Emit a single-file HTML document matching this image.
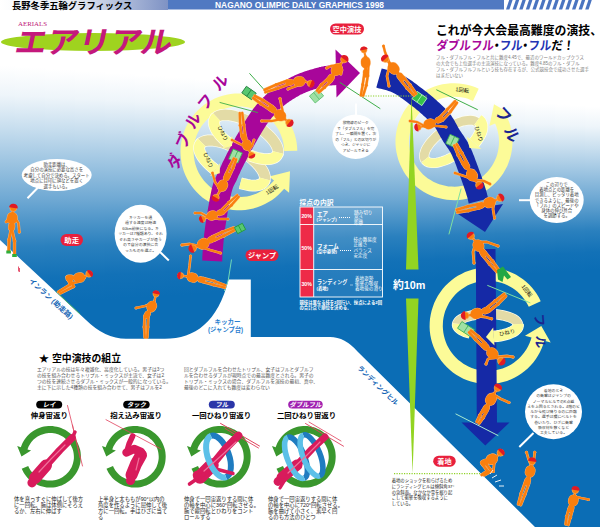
<!DOCTYPE html><html><head><meta charset="utf-8"><title>Aerials</title><style>html,body{margin:0;padding:0;background:#fff}svg{display:block}text{font-family:"Liberation Sans","Noto Sans CJK JP",sans-serif}</style></head><body><svg width="600" height="527" viewBox="0 0 600 527"><defs>
<linearGradient id="bg" x1="0" y1="0" x2="0" y2="1">
<stop offset="0" stop-color="#fff"/><stop offset="0.137" stop-color="#fff"/>
<stop offset="0.569" stop-color="#0f6fb9"/><stop offset="1" stop-color="#0a6eb6"/>
</linearGradient>
<linearGradient id="bs"><stop offset="0.000" stop-color="#ffffff"/><stop offset="0.123" stop-color="#eef5fa"/><stop offset="0.254" stop-color="#c9dfef"/><stop offset="0.561" stop-color="#6ea8d3"/><stop offset="0.759" stop-color="#2a80be"/><stop offset="0.890" stop-color="#1271b7"/><stop offset="1.000" stop-color="#0b6db5"/></linearGradient>
<linearGradient id="hd" x1="0" y1="0" x2="1" y2="0">
<stop offset="0" stop-color="#fff"/><stop offset="0.45" stop-color="#e4e9f2"/><stop offset="1" stop-color="#7e92c4"/>
</linearGradient>
<linearGradient id="b0" href="#bs" gradientUnits="userSpaceOnUse" x1="0" y1="65.5" x2="0" y2="305.6"/><linearGradient id="b1" href="#bs" gradientUnits="userSpaceOnUse" x1="0" y1="66.6" x2="0" y2="304.6"/><linearGradient id="b2" href="#bs" gradientUnits="userSpaceOnUse" x1="0" y1="67.6" x2="0" y2="303.8"/><linearGradient id="b3" href="#bs" gradientUnits="userSpaceOnUse" x1="0" y1="68.7" x2="0" y2="302.9"/><linearGradient id="b4" href="#bs" gradientUnits="userSpaceOnUse" x1="0" y1="69.7" x2="0" y2="301.9"/><linearGradient id="b5" href="#bs" gradientUnits="userSpaceOnUse" x1="0" y1="70.8" x2="0" y2="301.1"/><linearGradient id="b6" href="#bs" gradientUnits="userSpaceOnUse" x1="0" y1="71.8" x2="0" y2="300.1"/><linearGradient id="b7" href="#bs" gradientUnits="userSpaceOnUse" x1="0" y1="72.9" x2="0" y2="299.2"/><linearGradient id="b8" href="#bs" gradientUnits="userSpaceOnUse" x1="0" y1="73.9" x2="0" y2="298.4"/><linearGradient id="b9" href="#bs" gradientUnits="userSpaceOnUse" x1="0" y1="75.0" x2="0" y2="297.4"/><linearGradient id="b10" href="#bs" gradientUnits="userSpaceOnUse" x1="0" y1="76.0" x2="0" y2="296.6"/><linearGradient id="b11" href="#bs" gradientUnits="userSpaceOnUse" x1="0" y1="77.1" x2="0" y2="295.6"/><linearGradient id="b12" href="#bs" gradientUnits="userSpaceOnUse" x1="0" y1="78.1" x2="0" y2="294.8"/><linearGradient id="b13" href="#bs" gradientUnits="userSpaceOnUse" x1="0" y1="79.2" x2="0" y2="293.9"/><linearGradient id="b14" href="#bs" gradientUnits="userSpaceOnUse" x1="0" y1="80.2" x2="0" y2="292.9"/><linearGradient id="b15" href="#bs" gradientUnits="userSpaceOnUse" x1="0" y1="81.3" x2="0" y2="292.1"/><linearGradient id="b16" href="#bs" gradientUnits="userSpaceOnUse" x1="0" y1="82.3" x2="0" y2="291.1"/><linearGradient id="b17" href="#bs" gradientUnits="userSpaceOnUse" x1="0" y1="83.4" x2="0" y2="290.2"/><linearGradient id="b18" href="#bs" gradientUnits="userSpaceOnUse" x1="0" y1="84.4" x2="0" y2="289.4"/><linearGradient id="b19" href="#bs" gradientUnits="userSpaceOnUse" x1="0" y1="85.5" x2="0" y2="288.4"/><linearGradient id="b20" href="#bs" gradientUnits="userSpaceOnUse" x1="0" y1="86.5" x2="0" y2="287.6"/><linearGradient id="b21" href="#bs" gradientUnits="userSpaceOnUse" x1="0" y1="87.6" x2="0" y2="286.6"/><linearGradient id="b22" href="#bs" gradientUnits="userSpaceOnUse" x1="0" y1="88.6" x2="0" y2="285.8"/><linearGradient id="b23" href="#bs" gradientUnits="userSpaceOnUse" x1="0" y1="89.7" x2="0" y2="284.9"/><linearGradient id="b24" href="#bs" gradientUnits="userSpaceOnUse" x1="0" y1="90.7" x2="0" y2="283.9"/><linearGradient id="b25" href="#bs" gradientUnits="userSpaceOnUse" x1="0" y1="91.8" x2="0" y2="283.1"/><linearGradient id="b26" href="#bs" gradientUnits="userSpaceOnUse" x1="0" y1="92.8" x2="0" y2="282.1"/><linearGradient id="b27" href="#bs" gradientUnits="userSpaceOnUse" x1="0" y1="93.9" x2="0" y2="281.2"/><linearGradient id="b28" href="#bs" gradientUnits="userSpaceOnUse" x1="0" y1="94.9" x2="0" y2="280.4"/><linearGradient id="b29" href="#bs" gradientUnits="userSpaceOnUse" x1="0" y1="96.0" x2="0" y2="279.4"/><linearGradient id="b30" href="#bs" gradientUnits="userSpaceOnUse" x1="0" y1="97.0" x2="0" y2="278.6"/><linearGradient id="b31" href="#bs" gradientUnits="userSpaceOnUse" x1="0" y1="98.1" x2="0" y2="277.6"/><linearGradient id="b32" href="#bs" gradientUnits="userSpaceOnUse" x1="0" y1="99.1" x2="0" y2="276.8"/><linearGradient id="b33" href="#bs" gradientUnits="userSpaceOnUse" x1="0" y1="100.2" x2="0" y2="275.9"/><linearGradient id="b34" href="#bs" gradientUnits="userSpaceOnUse" x1="0" y1="101.2" x2="0" y2="274.9"/><linearGradient id="b35" href="#bs" gradientUnits="userSpaceOnUse" x1="0" y1="102.3" x2="0" y2="274.1"/><linearGradient id="b36" href="#bs" gradientUnits="userSpaceOnUse" x1="0" y1="103.3" x2="0" y2="273.1"/><linearGradient id="b37" href="#bs" gradientUnits="userSpaceOnUse" x1="0" y1="104.4" x2="0" y2="272.2"/><linearGradient id="b38" href="#bs" gradientUnits="userSpaceOnUse" x1="0" y1="105.4" x2="0" y2="271.4"/><linearGradient id="b39" href="#bs" gradientUnits="userSpaceOnUse" x1="0" y1="106.5" x2="0" y2="270.4"/></defs><rect x="0.0" y="0" width="15.6" height="527" fill="url(#b0)"/><rect x="15.0" y="0" width="15.6" height="527" fill="url(#b1)"/><rect x="30.0" y="0" width="15.6" height="527" fill="url(#b2)"/><rect x="45.0" y="0" width="15.6" height="527" fill="url(#b3)"/><rect x="60.0" y="0" width="15.6" height="527" fill="url(#b4)"/><rect x="75.0" y="0" width="15.6" height="527" fill="url(#b5)"/><rect x="90.0" y="0" width="15.6" height="527" fill="url(#b6)"/><rect x="105.0" y="0" width="15.6" height="527" fill="url(#b7)"/><rect x="120.0" y="0" width="15.6" height="527" fill="url(#b8)"/><rect x="135.0" y="0" width="15.6" height="527" fill="url(#b9)"/><rect x="150.0" y="0" width="15.6" height="527" fill="url(#b10)"/><rect x="165.0" y="0" width="15.6" height="527" fill="url(#b11)"/><rect x="180.0" y="0" width="15.6" height="527" fill="url(#b12)"/><rect x="195.0" y="0" width="15.6" height="527" fill="url(#b13)"/><rect x="210.0" y="0" width="15.6" height="527" fill="url(#b14)"/><rect x="225.0" y="0" width="15.6" height="527" fill="url(#b15)"/><rect x="240.0" y="0" width="15.6" height="527" fill="url(#b16)"/><rect x="255.0" y="0" width="15.6" height="527" fill="url(#b17)"/><rect x="270.0" y="0" width="15.6" height="527" fill="url(#b18)"/><rect x="285.0" y="0" width="15.6" height="527" fill="url(#b19)"/><rect x="300.0" y="0" width="15.6" height="527" fill="url(#b20)"/><rect x="315.0" y="0" width="15.6" height="527" fill="url(#b21)"/><rect x="330.0" y="0" width="15.6" height="527" fill="url(#b22)"/><rect x="345.0" y="0" width="15.6" height="527" fill="url(#b23)"/><rect x="360.0" y="0" width="15.6" height="527" fill="url(#b24)"/><rect x="375.0" y="0" width="15.6" height="527" fill="url(#b25)"/><rect x="390.0" y="0" width="15.6" height="527" fill="url(#b26)"/><rect x="405.0" y="0" width="15.6" height="527" fill="url(#b27)"/><rect x="420.0" y="0" width="15.6" height="527" fill="url(#b28)"/><rect x="435.0" y="0" width="15.6" height="527" fill="url(#b29)"/><rect x="450.0" y="0" width="15.6" height="527" fill="url(#b30)"/><rect x="465.0" y="0" width="15.6" height="527" fill="url(#b31)"/><rect x="480.0" y="0" width="15.6" height="527" fill="url(#b32)"/><rect x="495.0" y="0" width="15.6" height="527" fill="url(#b33)"/><rect x="510.0" y="0" width="15.6" height="527" fill="url(#b34)"/><rect x="525.0" y="0" width="15.6" height="527" fill="url(#b35)"/><rect x="540.0" y="0" width="15.6" height="527" fill="url(#b36)"/><rect x="555.0" y="0" width="15.6" height="527" fill="url(#b37)"/><rect x="570.0" y="0" width="15.6" height="527" fill="url(#b38)"/><rect x="585.0" y="0" width="15.6" height="527" fill="url(#b39)"/><path d="M0 240 L86 320 Q105 338.75 126 338.75 L165 338.75 C195 338.75 218 322 228.5 279.5 L250.8 279.5 L250.8 337 L330 337 Q345 337 358 352 L535 527 L0 527 Z" fill="#fff"/><rect x="0" y="0" width="168" height="10" fill="url(#hd)"/><rect x="168" y="0" width="336" height="9.5" fill="#5079c2"/><g fill="#4a74c0"><path d="M506.0 9.5 L509.2 0 L512.6 0 L509.4 9.5Z"/><path d="M512.6 9.5 L515.8 0 L519.2 0 L516.0 9.5Z"/><path d="M519.2 9.5 L522.4 0 L525.8 0 L522.6 9.5Z"/><path d="M525.8 9.5 L529.0 0 L532.4 0 L529.2 9.5Z"/><path d="M532.4 9.5 L535.6 0 L539.0 0 L535.8 9.5Z"/><path d="M539.0 9.5 L542.2 0 L545.6 0 L542.4 9.5Z"/><path d="M545.6 9.5 L548.8 0 L552.2 0 L549.0 9.5Z"/><path d="M552.2 9.5 L555.4 0 L558.8 0 L555.6 9.5Z"/><path d="M558.8 9.5 L562.0 0 L565.4 0 L562.2 9.5Z"/><path d="M565.4 9.5 L568.6 0 L572.0 0 L568.8 9.5Z"/><path d="M572.0 9.5 L575.2 0 L578.6 0 L575.4 9.5Z"/><path d="M578.6 9.5 L581.8 0 L585.2 0 L582.0 9.5Z"/><path d="M585.2 9.5 L588.4 0 L591.8 0 L588.6 9.5Z"/></g><text x="12" y="8.6" font-size="9.3" font-weight="bold" fill="#000">長野冬季五輪グラフィックス</text><text x="215" y="8.3" font-family="Liberation Sans, sans-serif" font-weight="bold" font-size="9.2" fill="#fff" textLength="169" lengthAdjust="spacingAndGlyphs">NAGANO OLIMPIC DAILY GRAPHICS 1998</text><ellipse cx="93" cy="42" rx="92" ry="9" fill="#9fd31f"/><text x="18" y="26.3" style="font-family:'Liberation Serif',serif" font-size="7" fill="#c01878" textLength="29" lengthAdjust="spacingAndGlyphs">AERIALS</text><text transform="translate(13.5 53) skewX(-12)" font-size="30.5" font-weight="bold" fill="#c4187c" textLength="157" lengthAdjust="spacingAndGlyphs">エアリアル</text><path d="M297.3 150.8 L297.1 146.7 L296.6 142.6 L295.8 138.5 L294.7 134.5 L293.3 130.6 L291.7 126.9 L289.8 123.2 L287.7 119.7 L285.3 116.3 L282.7 113.1 L279.8 110.1 L276.8 107.3 L273.5 104.8 L270.1 102.5 L266.6 100.4 L262.9 98.5 L259.0 97.0 L255.1 95.7 L251.1 94.7 L247.1 94.0 L243.0 93.5 L238.8 93.4 L234.7 93.5 L230.6 94.0 L226.6 94.7 L222.6 95.7 L218.6 97.0 L214.8 98.6 L211.1 100.4 L207.6 102.5 L204.2 104.8 L200.9 107.4 L197.9 110.2 L195.1 113.2 L192.5 116.4 L190.1 119.8 L187.9 123.3 L186.0 127.0 L184.4 130.8 L183.1 134.7 L182.0 138.6 L181.2 142.7 L180.7 146.8 L180.5 150.9 L180.6 155.0 L181.0 159.1 L181.6 163.2 L182.6 167.2 L183.8 171.2 L185.3 175.0 L187.1 178.7 L189.1 182.3 L191.4 185.8 L193.9 189.0 L196.6 192.1 L199.6 195.0 L202.7 197.7 L206.1 200.1 L209.6 202.3 L213.2 204.2 L217.0 205.9 L220.8 207.3 L224.8 208.5 L228.8 209.3 L232.9 209.9 L237.0 210.2 L241.2 210.2 L245.3 209.9 L249.4 209.3 L253.4 208.4 L257.3 207.2 L261.2 205.8 L265.0 204.1 L268.6 202.1 L272.1 199.9 L275.4 197.4 L278.5 194.7 L281.4 191.8 L284.2 188.7 L289.1 192.7 L290.0 171.2 L269.1 176.4 L274.0 180.4 L271.9 182.8 L269.6 185.1 L267.2 187.2 L264.6 189.1 L261.9 190.8 L259.1 192.3 L256.2 193.7 L253.2 194.8 L250.1 195.7 L247.0 196.4 L243.8 196.8 L240.7 197.1 L237.5 197.1 L234.3 196.9 L231.1 196.4 L228.0 195.8 L224.9 194.9 L221.9 193.8 L219.0 192.5 L216.1 191.0 L213.4 189.3 L210.8 187.4 L208.4 185.3 L206.1 183.1 L204.0 180.7 L202.0 178.1 L200.3 175.5 L198.7 172.7 L197.3 169.8 L196.2 166.8 L195.2 163.8 L194.5 160.6 L194.0 157.5 L193.7 154.3 L193.6 151.1 L193.8 147.9 L194.2 144.7 L194.8 141.6 L195.6 138.5 L196.6 135.5 L197.9 132.5 L199.4 129.7 L201.0 127.0 L202.9 124.3 L204.9 121.9 L207.1 119.5 L209.5 117.4 L212.0 115.4 L214.6 113.6 L217.4 112.0 L220.2 110.5 L223.2 109.3 L226.2 108.3 L229.3 107.5 L232.5 107.0 L235.7 106.6 L238.9 106.5 L242.1 106.6 L245.2 106.9 L248.4 107.5 L251.5 108.3 L254.5 109.3 L257.5 110.5 L260.4 111.9 L263.1 113.5 L265.8 115.3 L268.3 117.3 L270.6 119.5 L272.8 121.8 L274.9 124.3 L276.7 126.9 L278.4 129.6 L279.9 132.4 L281.1 135.4 L282.2 138.4 L283.0 141.5 L283.6 144.6 L284.0 147.8 L284.2 151.0 Z" fill="#fcfb98"/><polyline points="214.8 119.0 215.8 117.7 217.1 116.7 218.7 115.9 220.6 115.3 222.8 114.9 225.2 114.8 227.8 114.9 230.7 115.3 233.7 115.9 236.9 116.8 240.2 117.8 243.5 119.1 246.9 120.6 250.2 122.2 253.5 124.0 256.7 126.0 259.8 128.0 262.8 130.2 265.5 132.5 268.1 134.8 270.4 137.1 272.4 139.4 274.2 141.7 275.6 143.9 276.8 146.1 277.5 148.2 278.0 150.1 278.1 151.9 277.8 153.5 277.2 155.0" fill="none" stroke="#fffef0" stroke-width="11.8"/><polyline points="214.8 119.0 215.8 117.7 217.1 116.7 218.7 115.9 220.6 115.3 222.8 114.9 225.2 114.8 227.8 114.9 230.7 115.3 233.7 115.9 236.9 116.8 240.2 117.8 243.5 119.1 246.9 120.6 250.2 122.2 253.5 124.0 256.7 126.0 259.8 128.0 262.8 130.2 265.5 132.5 268.1 134.8 270.4 137.1 272.4 139.4 274.2 141.7 275.6 143.9 276.8 146.1 277.5 148.2 278.0 150.1 278.1 151.9 277.8 153.5 277.2 155.0" fill="none" stroke="#e3dba6" stroke-width="10.5"/><polyline points="200.0 144.5 200.9 143.2 202.2 142.2 203.8 141.4 205.8 140.8 208.0 140.5 210.5 140.4 213.2 140.6 216.1 141.0 219.2 141.6 222.5 142.5 225.8 143.6 229.2 144.9 232.7 146.4 236.1 148.1 239.5 150.0 242.8 152.0 246.0 154.1 249.0 156.4 251.9 158.7 254.5 161.0 256.9 163.4 259.0 165.7 260.8 168.1 262.3 170.3 263.5 172.5 264.3 174.6 264.8 176.6 264.9 178.4 264.7 180.0 264.0 181.5" fill="none" stroke="#fffef0" stroke-width="11.8"/><polyline points="200.0 144.5 200.9 143.2 202.2 142.2 203.8 141.4 205.8 140.8 208.0 140.5 210.5 140.4 213.2 140.6 216.1 141.0 219.2 141.6 222.5 142.5 225.8 143.6 229.2 144.9 232.7 146.4 236.1 148.1 239.5 150.0 242.8 152.0 246.0 154.1 249.0 156.4 251.9 158.7 254.5 161.0 256.9 163.4 259.0 165.7 260.8 168.1 262.3 170.3 263.5 172.5 264.3 174.6 264.8 176.6 264.9 178.4 264.7 180.0 264.0 181.5" fill="none" stroke="#e3dba6" stroke-width="10.5"/><path d="M222.2 261.4 L222.2 260.8 L222.2 260.0 L222.3 259.2 L222.3 258.4 L222.3 257.5 L222.4 256.4 L222.4 255.3 L222.5 254.0 L222.6 252.5 L222.8 250.9 L222.9 249.0 L223.1 246.9 L223.3 244.7 L223.5 242.4 L223.7 240.0 L224.0 237.4 L224.3 234.8 L224.6 232.1 L225.0 229.3 L225.4 226.5 L225.9 223.3 L226.4 219.9 L227.0 216.2 L227.6 212.4 L228.3 208.6 L229.0 204.8 L229.6 201.2 L230.3 197.9 L230.9 194.9 L231.5 192.4 L232.0 190.5 L232.5 188.9 L233.0 187.6 L233.4 186.6 L233.9 185.6 L234.4 184.6 L234.9 183.5 L235.6 182.2 L236.4 180.7 L237.1 179.1 L237.8 177.6 L238.4 176.1 L239.0 174.8 L239.7 173.4 L240.3 172.0 L240.9 170.6 L241.6 169.2 L242.3 167.7 L243.1 166.2 L243.9 164.5 L244.8 162.8 L245.8 160.9 L246.8 159.0 L247.8 157.0 L248.9 155.0 L250.0 153.0 L251.1 150.9 L252.2 148.9 L253.3 146.9 L254.4 144.9 L255.5 142.9 L256.7 140.9 L257.9 138.8 L259.1 136.7 L260.3 134.7 L261.5 132.7 L262.7 130.7 L263.8 128.9 L264.9 127.2 L266.0 125.6 L267.0 124.1 L268.0 122.8 L268.9 121.5 L269.8 120.3 L270.7 119.2 L271.5 118.1 L272.4 117.0 L273.4 116.0 L274.3 114.9 L275.3 113.8 L276.3 112.7 L277.4 111.7 L278.4 110.6 L279.5 109.6 L280.5 108.6 L281.6 107.6 L282.7 106.7 L283.8 105.7 L285.0 104.8 L286.1 103.9 L287.2 103.1 L288.5 102.2 L289.7 101.3 L291.1 100.4 L292.4 99.6 L293.8 98.7 L295.1 97.9 L296.4 97.1 L297.7 96.4 L298.9 95.7 L299.9 95.1 L300.9 94.6 L301.9 94.2 L302.8 93.7 L303.7 93.3 L304.6 92.9 L305.6 92.5 L306.5 92.1 L307.5 91.7 L308.6 91.3 L309.5 91.0 L310.5 90.6 L311.5 90.3 L312.5 90.0 L313.5 89.6 L314.6 89.3 L315.6 89.0 L316.6 88.7 L317.7 88.4 L318.8 88.1 L319.8 87.8 L320.8 87.5 L321.8 87.3 L322.7 87.0 L323.5 86.8 L324.4 86.6 L325.2 86.4 L326.0 86.2 L326.8 86.0 L327.6 85.9 L328.4 85.7 L329.4 85.6 L330.5 85.5 L331.7 85.4 L332.9 85.3 L334.0 85.2 L335.1 85.2 L336.2 85.1 L337.1 85.0 L337.8 85.0 L336.2 65.0 L335.6 65.1 L334.8 65.1 L333.8 65.2 L332.6 65.3 L331.4 65.4 L330.0 65.5 L328.6 65.6 L327.2 65.8 L325.8 65.9 L324.4 66.1 L323.1 66.4 L321.9 66.6 L320.7 66.9 L319.6 67.1 L318.5 67.4 L317.4 67.7 L316.3 68.0 L315.3 68.3 L314.3 68.6 L313.2 68.9 L312.2 69.2 L311.1 69.5 L310.0 69.8 L308.8 70.2 L307.6 70.5 L306.4 70.9 L305.2 71.3 L303.9 71.7 L302.7 72.2 L301.4 72.7 L300.3 73.1 L299.2 73.5 L298.0 74.0 L296.8 74.5 L295.6 75.0 L294.4 75.6 L293.2 76.2 L291.8 76.8 L290.5 77.5 L289.1 78.3 L287.7 79.1 L286.3 79.9 L284.8 80.8 L283.3 81.7 L281.7 82.7 L280.1 83.7 L278.6 84.7 L277.0 85.8 L275.4 86.9 L273.9 88.1 L272.5 89.2 L271.1 90.3 L269.7 91.5 L268.3 92.7 L267.0 93.9 L265.7 95.1 L264.4 96.4 L263.1 97.6 L261.9 98.9 L260.7 100.2 L259.5 101.5 L258.4 102.7 L257.2 104.0 L256.1 105.3 L255.0 106.7 L253.9 108.1 L252.8 109.6 L251.7 111.1 L250.6 112.7 L249.4 114.4 L248.2 116.3 L246.9 118.2 L245.7 120.2 L244.4 122.3 L243.1 124.5 L241.9 126.6 L240.6 128.8 L239.4 130.9 L238.2 133.0 L237.0 135.1 L235.8 137.1 L234.7 139.2 L233.5 141.4 L232.3 143.5 L231.2 145.6 L230.1 147.7 L229.0 149.7 L228.0 151.7 L227.0 153.6 L226.1 155.5 L225.2 157.3 L224.4 158.9 L223.6 160.5 L222.8 162.1 L222.1 163.6 L221.5 165.1 L220.8 166.6 L220.2 168.0 L219.5 169.5 L218.9 170.9 L218.3 172.1 L217.8 173.1 L217.2 174.2 L216.6 175.5 L215.9 176.9 L215.1 178.6 L214.3 180.4 L213.5 182.6 L212.8 184.9 L212.1 187.6 L211.4 190.6 L210.7 193.9 L210.0 197.5 L209.3 201.2 L208.6 205.2 L207.9 209.1 L207.3 213.0 L206.7 216.8 L206.1 220.3 L205.6 223.5 L205.2 226.6 L204.8 229.6 L204.4 232.5 L204.1 235.3 L203.8 238.0 L203.6 240.6 L203.4 243.0 L203.2 245.2 L203.0 247.2 L202.8 249.1 L202.7 250.9 L202.6 252.6 L202.5 254.1 L202.4 255.5 L202.3 256.7 L202.3 257.7 L202.3 258.7 L202.3 259.4 L202.2 260.0 L202.2 260.6 Z" fill="#a8069a" /><path d="M335.5 49.5 L360 73 L336.5 97.5 Z" fill="#a8069a"/><path d="M478.7 88.7 L474.9 87.1 L471.0 85.7 L467.0 84.7 L463.0 83.9 L458.9 83.4 L454.8 83.2 L450.7 83.3 L446.6 83.7 L442.5 84.3 L438.5 85.3 L434.6 86.5 L430.7 88.0 L427.0 89.8 L423.4 91.8 L420.0 94.1 L416.7 96.6 L413.6 99.4 L410.7 102.3 L408.1 105.5 L405.6 108.8 L403.4 112.3 L401.5 115.9 L399.8 119.7 L398.4 123.5 L397.3 127.5 L396.4 131.5 L395.8 135.6 L395.5 139.7 L395.5 143.8 L395.8 148.0 L396.4 152.0 L397.3 156.1 L398.4 160.0 L399.9 163.9 L401.6 167.6 L403.5 171.3 L405.7 174.8 L408.2 178.1 L410.9 181.2 L413.7 184.1 L416.8 186.9 L420.1 189.4 L423.5 191.7 L427.1 193.7 L430.9 195.4 L434.7 196.9 L438.6 198.1 L442.7 199.1 L446.7 199.7 L450.8 200.1 L455.0 200.2 L459.1 200.0 L463.2 199.5 L467.2 198.7 L471.2 197.6 L475.1 196.3 L478.9 194.6 L482.5 192.8 L486.1 190.6 L489.4 188.2 L492.6 185.6 L495.6 182.8 L498.4 179.8 L501.0 176.6 L503.3 173.2 L505.4 169.6 L507.3 165.9 L508.8 162.1 L510.1 158.2 L511.1 154.2 L511.9 150.1 L512.3 146.1 L512.5 141.9 L512.4 137.8 L512.0 133.7 L511.2 129.7 L510.3 125.6 L509.0 121.7 L507.4 117.9 L513.2 115.4 L494.0 104.2 L489.4 125.9 L495.1 123.4 L496.3 126.3 L497.3 129.4 L498.0 132.4 L498.6 135.6 L498.9 138.7 L499.0 141.9 L498.9 145.0 L498.5 148.2 L498.0 151.3 L497.2 154.4 L496.2 157.4 L495.0 160.3 L493.5 163.2 L491.9 165.9 L490.1 168.5 L488.2 171.0 L486.0 173.3 L483.7 175.5 L481.3 177.5 L478.7 179.3 L476.0 181.0 L473.1 182.4 L470.2 183.7 L467.2 184.7 L464.2 185.5 L461.0 186.1 L457.9 186.5 L454.7 186.7 L451.6 186.6 L448.4 186.4 L445.3 185.8 L442.2 185.1 L439.2 184.2 L436.2 183.0 L433.3 181.7 L430.6 180.1 L427.9 178.4 L425.4 176.5 L423.0 174.4 L420.8 172.1 L418.8 169.7 L416.9 167.1 L415.2 164.4 L413.7 161.7 L412.4 158.8 L411.3 155.8 L410.4 152.8 L409.7 149.7 L409.3 146.5 L409.0 143.3 L409.0 140.2 L409.2 137.0 L409.7 133.9 L410.3 130.8 L411.2 127.7 L412.3 124.8 L413.6 121.9 L415.1 119.1 L416.8 116.4 L418.7 113.8 L420.7 111.4 L422.9 109.1 L425.3 107.0 L427.8 105.1 L430.5 103.3 L433.2 101.8 L436.1 100.4 L439.0 99.3 L442.1 98.3 L445.2 97.6 L448.3 97.1 L451.4 96.8 L454.6 96.7 L457.8 96.9 L460.9 97.2 L464.0 97.8 L467.1 98.6 L470.1 99.7 L473.0 100.9 Z" fill="#fcfb98"/><polyline points="425.3 160.0 424.6 158.7 424.3 157.3 424.2 155.6 424.4 153.9 424.9 152.0 425.7 149.9 426.8 147.8 428.2 145.7 429.8 143.4 431.7 141.2 433.8 139.0 436.0 136.8 438.5 134.6 441.1 132.5 443.8 130.5 446.5 128.7 449.4 127.0 452.2 125.4 455.1 124.0 457.9 122.8 460.6 121.9 463.3 121.1 465.8 120.6 468.2 120.3 470.3 120.2 472.3 120.3 474.0 120.7 475.5 121.3 476.8 122.2 477.7 123.2" fill="none" stroke="#fffef0" stroke-width="10.1"/><polyline points="425.3 160.0 424.6 158.7 424.3 157.3 424.2 155.6 424.4 153.9 424.9 152.0 425.7 149.9 426.8 147.8 428.2 145.7 429.8 143.4 431.7 141.2 433.8 139.0 436.0 136.8 438.5 134.6 441.1 132.5 443.8 130.5 446.5 128.7 449.4 127.0 452.2 125.4 455.1 124.0 457.9 122.8 460.6 121.9 463.3 121.1 465.8 120.6 468.2 120.3 470.3 120.2 472.3 120.3 474.0 120.7 475.5 121.3 476.8 122.2 477.7 123.2" fill="none" stroke="#e3dba6" stroke-width="8.8"/><polyline points="456.9 154.2 454.0 156.0 451.0 157.6 448.1 159.1 445.2 160.3 442.3 161.3 439.6 162.1 437.0 162.7 434.6 163.0 432.4 163.0 430.4 162.8 428.6 162.4 427.1 161.7 425.9 160.7 425.0 159.6" fill="none" stroke="#fffef0" stroke-width="10.1"/><polyline points="456.9 154.2 454.0 156.0 451.0 157.6 448.1 159.1 445.2 160.3 442.3 161.3 439.6 162.1 437.0 162.7 434.6 163.0 432.4 163.0 430.4 162.8 428.6 162.4 427.1 161.7 425.9 160.7 425.0 159.6" fill="none" stroke="#fcfb98" stroke-width="8.8"/><path d="M376.3 87.6 L377.5 88.0 L379.1 88.4 L380.9 88.8 L382.7 89.3 L384.6 89.8 L386.6 90.3 L388.5 90.9 L390.3 91.6 L392.0 92.2 L393.5 92.9 L395.0 93.7 L396.7 94.8 L398.6 96.0 L400.5 97.4 L402.5 98.8 L404.5 100.3 L406.5 101.8 L408.4 103.3 L410.3 104.7 L412.0 106.0 L413.5 107.1 L414.8 108.1 L415.9 109.0 L417.0 109.9 L418.1 110.8 L419.1 111.6 L420.0 112.5 L421.1 113.4 L422.1 114.3 L423.3 115.4 L424.5 116.5 L425.7 117.6 L426.9 118.7 L428.1 119.8 L429.3 120.9 L430.4 122.0 L431.4 123.0 L432.4 124.1 L433.3 125.1 L434.1 126.1 L434.9 127.1 L435.6 128.3 L436.4 129.5 L437.1 130.8 L437.9 132.2 L438.7 133.7 L439.6 135.2 L440.5 136.9 L441.5 138.5 L442.5 140.2 L443.5 141.9 L444.6 143.5 L445.6 145.0 L446.6 146.4 L447.5 147.8 L448.4 149.1 L449.3 150.4 L450.1 151.8 L450.8 153.1 L451.6 154.5 L452.3 156.0 L453.0 157.7 L453.8 159.5 L454.6 161.3 L455.3 163.3 L456.1 165.3 L456.8 167.3 L457.6 169.4 L458.4 171.5 L459.1 173.5 L459.9 175.5 L460.6 177.6 L461.4 179.7 L462.1 181.8 L462.9 183.9 L463.6 185.9 L464.3 187.9 L464.9 189.8 L465.5 191.5 L466.0 193.1 L466.4 194.4 L466.8 195.7 L467.2 197.0 L467.5 198.1 L467.8 199.2 L468.0 200.2 L468.2 201.2 L468.4 202.0 L468.6 202.9 L468.8 203.5 L488.2 198.5 L488.0 197.9 L487.9 197.3 L487.7 196.4 L487.4 195.4 L487.1 194.3 L486.8 193.0 L486.4 191.6 L486.0 190.2 L485.5 188.6 L485.0 186.9 L484.5 185.2 L483.9 183.4 L483.2 181.4 L482.5 179.4 L481.8 177.3 L481.0 175.1 L480.2 172.9 L479.4 170.7 L478.6 168.6 L477.9 166.5 L477.1 164.5 L476.4 162.5 L475.6 160.4 L474.8 158.2 L474.0 156.1 L473.1 153.9 L472.3 151.8 L471.4 149.7 L470.4 147.6 L469.4 145.5 L468.4 143.5 L467.3 141.6 L466.2 139.8 L465.1 138.2 L464.1 136.6 L463.1 135.1 L462.1 133.7 L461.2 132.3 L460.3 131.0 L459.5 129.8 L458.7 128.4 L457.9 127.0 L457.1 125.6 L456.3 124.0 L455.4 122.4 L454.5 120.8 L453.5 119.1 L452.4 117.4 L451.2 115.6 L449.9 113.9 L448.6 112.2 L447.2 110.7 L445.9 109.2 L444.5 107.8 L443.1 106.5 L441.8 105.2 L440.5 104.0 L439.2 102.8 L437.9 101.7 L436.7 100.6 L435.6 99.5 L434.4 98.5 L433.3 97.5 L432.1 96.5 L430.9 95.5 L429.7 94.5 L428.4 93.4 L427.1 92.3 L425.6 91.2 L424.0 90.0 L422.4 88.8 L420.6 87.4 L418.6 85.9 L416.5 84.3 L414.3 82.7 L412.1 81.1 L409.8 79.4 L407.4 77.9 L405.0 76.4 L402.5 75.1 L400.0 73.9 L397.3 72.8 L394.8 71.9 L392.3 71.1 L389.9 70.5 L387.7 69.9 L385.7 69.4 L384.0 69.0 L382.7 68.7 L381.7 68.4 Z" fill="#1529a6" /><path d="M455 212 L503 204 L485 232 Z" fill="#1529a6"/><path d="M540.7 301.2 L538.9 297.5 L536.8 294.0 L534.5 290.7 L531.9 287.5 L529.1 284.6 L526.1 281.8 L523.0 279.2 L519.6 276.9 L516.2 274.8 L512.5 273.0 L508.8 271.4 L504.9 270.0 L501.0 269.0 L497.0 268.2 L493.0 267.7 L488.9 267.5 L484.8 267.6 L480.8 267.9 L476.8 268.6 L472.8 269.5 L468.9 270.7 L465.1 272.1 L461.4 273.9 L457.8 275.8 L454.4 278.1 L451.2 280.5 L448.1 283.2 L445.2 286.1 L442.6 289.1 L440.1 292.4 L437.9 295.8 L435.9 299.4 L434.2 303.1 L432.8 306.9 L431.6 310.8 L430.7 314.7 L430.0 318.7 L429.7 322.8 L429.6 326.9 L429.8 330.9 L430.3 335.0 L431.1 339.0 L432.2 342.9 L433.5 346.7 L435.1 350.5 L436.9 354.1 L439.0 357.6 L441.4 360.9 L443.9 364.1 L446.7 367.1 L449.7 369.8 L452.9 372.4 L456.2 374.7 L459.7 376.8 L463.3 378.7 L467.1 380.3 L470.9 381.6 L474.9 382.6 L478.9 383.4 L482.9 383.9 L487.0 384.1 L491.0 384.0 L495.1 383.7 L499.1 383.0 L503.1 382.1 L507.0 380.9 L510.8 379.4 L514.4 377.7 L518.0 375.7 L521.4 373.5 L524.7 371.1 L527.7 368.4 L530.6 365.5 L533.3 362.4 L535.7 359.2 L537.9 355.7 L539.9 352.2 L541.6 348.5 L543.1 344.7 L544.2 340.8 L550.7 342.5 L541.3 326.0 L525.0 335.7 L531.5 337.4 L530.6 340.4 L529.4 343.4 L528.1 346.2 L526.6 349.0 L524.9 351.6 L523.0 354.1 L520.9 356.5 L518.7 358.7 L516.3 360.8 L513.8 362.7 L511.2 364.4 L508.4 366.0 L505.6 367.3 L502.6 368.4 L499.6 369.3 L496.6 370.1 L493.5 370.6 L490.3 370.8 L487.2 370.9 L484.0 370.7 L480.9 370.4 L477.8 369.8 L474.8 368.9 L471.8 367.9 L468.9 366.7 L466.1 365.3 L463.4 363.7 L460.8 361.8 L458.3 359.9 L456.0 357.7 L453.9 355.4 L451.9 353.0 L450.1 350.4 L448.5 347.7 L447.0 344.9 L445.8 342.0 L444.8 339.0 L444.0 336.0 L443.4 332.9 L443.0 329.8 L442.8 326.6 L442.9 323.5 L443.1 320.3 L443.6 317.2 L444.3 314.2 L445.2 311.1 L446.4 308.2 L447.7 305.4 L449.2 302.6 L450.9 300.0 L452.8 297.4 L454.9 295.1 L457.1 292.8 L459.5 290.8 L462.0 288.9 L464.7 287.2 L467.4 285.6 L470.3 284.3 L473.2 283.2 L476.2 282.2 L479.3 281.5 L482.4 281.0 L485.5 280.8 L488.7 280.7 L491.8 280.9 L494.9 281.3 L498.0 281.9 L501.1 282.7 L504.1 283.7 L507.0 284.9 L509.8 286.4 L512.5 288.0 L515.0 289.8 L517.5 291.8 L519.8 293.9 L521.9 296.2 L523.9 298.7 L525.7 301.2 L527.3 303.9 L528.8 306.7 Z" fill="#fcfb98"/><polyline points="457.0 324.7 457.2 323.6 457.7 322.5 458.5 321.4 459.6 320.3 461.1 319.3 462.8 318.4 464.8 317.5 467.1 316.7 469.6 316.0 472.2 315.3 475.1 314.8 478.1 314.4 481.2 314.1 484.3 314.0 487.5 313.9 490.7 314.0 493.8 314.1 496.9 314.4 499.9 314.8 502.8 315.3 505.4 316.0 507.9 316.7 510.2 317.5 512.2 318.4 513.9 319.3 515.4 320.3 516.5 321.4 517.3 322.5 517.8 323.6 518.0 324.7" fill="none" stroke="#fffef0" stroke-width="10.3"/><polyline points="457.0 324.7 457.2 323.6 457.7 322.5 458.5 321.4 459.6 320.3 461.1 319.3 462.8 318.4 464.8 317.5 467.1 316.7 469.6 316.0 472.2 315.3 475.1 314.8 478.1 314.4 481.2 314.1 484.3 314.0 487.5 313.9 490.7 314.0 493.8 314.1 496.9 314.4 499.9 314.8 502.8 315.3 505.4 316.0 507.9 316.7 510.2 317.5 512.2 318.4 513.9 319.3 515.4 320.3 516.5 321.4 517.3 322.5 517.8 323.6 518.0 324.7" fill="none" stroke="#e3dba6" stroke-width="9.0"/><path d="M411.5 96 L418.5 269.5 L406 269.5 Z" fill="#93d422"/><path d="M406 298.5 L418.5 298.5 L412.6 473.5 Z" fill="#93d422"/><text x="393" y="289" font-size="10.8" font-weight="bold" fill="#fff">約10m</text><path d="M363 96 H427" stroke="#8fd228" stroke-width="1.2" stroke-dasharray="1.2 1.3" fill="none"/><path d="M394 473.7 H481" stroke="#8fd228" stroke-width="1.2" stroke-dasharray="1.2 1.3" fill="none"/><path d="M475.8 249 H495.5 L497 422.5 H509.5 L485.3 445.5 L461.5 422.5 H476.8 Z" fill="#1529a6"/><text x="299.5" y="204.6" font-size="6.8" font-weight="bold" fill="#fff">採点の内訳</text><rect x="313.5" y="207" width="69" height="90" fill="#fff" fill-opacity="0.1"/><rect x="300" y="207" width="13.5" height="90" fill="#ee2a48"/><g fill="none" stroke="#fff" stroke-width="0.9"><rect x="300" y="207" width="82.5" height="90"/><path d="M300 224.5 H382.5 M300 269.5 H382.5 M313.7 207 V297"/></g><text x="306.7" y="218.0" font-size="5.6" font-weight="bold" fill="#fff" text-anchor="middle" textLength="10.5" lengthAdjust="spacingAndGlyphs">20%</text><text x="306.7" y="249.5" font-size="5.6" font-weight="bold" fill="#fff" text-anchor="middle" textLength="10.5" lengthAdjust="spacingAndGlyphs">50%</text><text x="306.7" y="285.5" font-size="5.6" font-weight="bold" fill="#fff" text-anchor="middle" textLength="10.5" lengthAdjust="spacingAndGlyphs">30%</text><text x="317" y="215.5" font-size="5.5" font-weight="bold" fill="#fff">エア</text><text x="316.5" y="221.3" font-size="4.4" font-weight="bold" fill="#fff">(ジャンプ)</text><text x="317" y="247.5" font-size="5.5" font-weight="bold" fill="#fff">フォーム</text><text x="316.5" y="253.3" font-size="4.4" font-weight="bold" fill="#fff">(空中姿勢)</text><text x="317" y="284" font-size="5.5" font-weight="bold" fill="#fff" textLength="30.4" lengthAdjust="spacingAndGlyphs">ランディング</text><text x="316.5" y="289.8" font-size="4.4" font-weight="bold" fill="#fff">(着地)</text><path d="M339 217.5 H351 M340 250.5 H352 M350.5 285 H353" stroke="#fff" stroke-width="1" stroke-dasharray="1 1"/><text x="354" y="213.5" font-size="4.6" fill="#fff">踏み切り</text><text x="354" y="218.7" font-size="4.6" fill="#fff">高さ</text><text x="354" y="223.9" font-size="4.6" fill="#fff">距離</text><text x="353.5" y="241" font-size="4.6" fill="#fff">技の難易度</text><text x="353.5" y="246.4" font-size="4.6" fill="#fff">正確さ</text><text x="353.5" y="251.8" font-size="4.6" fill="#fff">バランス</text><text x="353.5" y="257.2" font-size="4.6" fill="#fff">安定度</text><text x="355" y="279.5" font-size="4.6" fill="#fff">着地姿勢</text><text x="355" y="284.7" font-size="4.6" fill="#fff">衝撃の吸収</text><text x="355" y="289.9" font-size="4.6" fill="#fff">着地後の滑り</text><text x="299.5" y="303.5" font-size="4.34" font-weight="bold" fill="#fff">競技は異なる技を2回行い、採点による2回</text><text x="299.5" y="309.1" font-size="4.34" font-weight="bold" fill="#fff">の合計点で順位を決める。</text><rect x="60.5" y="234.0" width="22.5" height="12.0" rx="6.0" fill="#e8203c"/><text x="71.7" y="242.66" font-size="7.4" font-weight="bold" text-anchor="middle" fill="#fff">助走</text><rect x="245.5" y="249.6" width="33.0" height="11.5" rx="5.8" fill="#e8203c"/><text x="262" y="257.89" font-size="7.2" font-weight="bold" text-anchor="middle" fill="#fff">ジャンプ</text><rect x="330.0" y="23.5" width="34.0" height="11.0" rx="5.5" fill="#e8203c"/><text x="347" y="31.59" font-size="7.2" font-weight="bold" text-anchor="middle" fill="#fff">空中演技</text><rect x="433.2" y="455.7" width="22.5" height="11.0" rx="5.5" fill="#e8203c"/><text x="444.5" y="463.79" font-size="7.2" font-weight="bold" text-anchor="middle" fill="#fff">着地</text><g transform="translate(28.5 281.5) rotate(42.5)"><text x="0" y="0" font-size="7.1" font-weight="bold" fill="#1565b5">インラン<tspan x="30.5">(助走路)</tspan></text></g><text x="214.5" y="324" font-size="6.5" font-weight="bold" fill="#2a80d0">キッカー</text><text x="208" y="332" font-size="6.3" font-weight="bold" fill="#2a80d0">(ジャンプ台)</text><g transform="translate(356.9 368.4) rotate(44)"><text x="0" y="0" font-size="6.8" font-weight="bold" fill="#1565b5">ランディングヒル</text></g><text x="436" y="35" font-size="12.3" font-weight="bold" fill="#000" textLength="166" lengthAdjust="spacingAndGlyphs">これが今大会最高難度の演技、</text><text transform="translate(436 50) skewX(-5)" font-size="12.6" font-weight="bold" fill="#a8069a" textLength="57.6" lengthAdjust="spacingAndGlyphs">ダブルフル</text><text transform="translate(490.44 50) skewX(-5)" font-size="12.6" font-weight="bold" fill="#000" textLength="11.7" lengthAdjust="spacingAndGlyphs">・</text><text transform="translate(499.25 50) skewX(-5)" font-size="12.6" font-weight="bold" fill="#2433b4" textLength="23" lengthAdjust="spacingAndGlyphs">フル</text><text transform="translate(519.1 50) skewX(-5)" font-size="12.6" font-weight="bold" fill="#000" textLength="11.7" lengthAdjust="spacingAndGlyphs">・</text><text transform="translate(527.9 50) skewX(-5)" font-size="12.6" font-weight="bold" fill="#2433b4" textLength="23" lengthAdjust="spacingAndGlyphs">フル</text><text transform="translate(550.96 50) skewX(-5)" font-size="12.6" font-weight="bold" fill="#000" textLength="23" lengthAdjust="spacingAndGlyphs">だ！</text><text x="436" y="58.7" font-size="4.5" fill="#808080">フル・ダブルフル・フルと共に難度4.45で、最近のワールドカップクラス</text><text x="436" y="64.8" font-size="4.5" fill="#808080">の大会でも上位選手の主流演技になっている。難度4.85のフル・ダブル</text><text x="436" y="70.9" font-size="4.5" fill="#808080">フル・ダブルフルフルという技も存在するが、公式競技会で成功させた選手</text><text x="436" y="77" font-size="4.5" fill="#808080">はまだいない</text><g transform="translate(174.8 161.4) rotate(-68.0)"><text x="0" y="5.58" font-size="15.5" font-weight="bold" text-anchor="middle" fill="#a8069a">ダ</text></g><g transform="translate(183.3 140.3) rotate(-66.0)"><text x="0" y="5.58" font-size="15.5" font-weight="bold" text-anchor="middle" fill="#a8069a">ブ</text></g><g transform="translate(193.0 120.4) rotate(-60.0)"><text x="0" y="5.58" font-size="15.5" font-weight="bold" text-anchor="middle" fill="#a8069a">ル</text></g><g transform="translate(205.5 102.0) rotate(-51.0)"><text x="0" y="5.58" font-size="15.5" font-weight="bold" text-anchor="middle" fill="#a8069a">フ</text></g><g transform="translate(220.3 82.3) rotate(-45.0)"><text x="0" y="5.58" font-size="15.5" font-weight="bold" text-anchor="middle" fill="#a8069a">ル</text></g><g transform="translate(503.5 114.7) rotate(48.0)"><text x="0" y="5.58" font-size="15.5" font-weight="bold" text-anchor="middle" fill="#1a2590">フ</text></g><g transform="translate(512.0 134.5) rotate(66.0)"><text x="0" y="5.58" font-size="15.5" font-weight="bold" text-anchor="middle" fill="#1a2590">ル</text></g><g transform="translate(539.5 320.0) rotate(85.0)"><text x="0" y="4.5" font-size="12.5" font-weight="bold" text-anchor="middle" fill="#1a2590">フ</text></g><g transform="translate(540.5 342.0) rotate(95.0)"><text x="0" y="4.5" font-size="12.5" font-weight="bold" text-anchor="middle" fill="#1a2590">ル</text></g><path d="M38.0 187.5 L27.5 198.3" stroke="#fff" stroke-width="2"/><ellipse cx="56.7" cy="175.0" rx="35.0" ry="16.0" fill="#fff"/><text x="56.7" y="165.58" font-size="4.4" text-anchor="middle" fill="#3a3a3a">助走距離は、</text><text x="56.7" y="171.08" font-size="4.4" text-anchor="middle" fill="#3a3a3a">自分の演技に必要な高さを</text><text x="56.7" y="176.58" font-size="4.4" text-anchor="middle" fill="#3a3a3a">考慮して自分で決める。スタート</text><text x="56.7" y="182.08" font-size="4.4" text-anchor="middle" fill="#3a3a3a">地点に目印に旗などを置く</text><text x="56.7" y="187.58" font-size="4.4" text-anchor="middle" fill="#3a3a3a">選手もいる。</text><path d="M158.0 250.0 L168.8 260.5" stroke="#fff" stroke-width="2"/><ellipse cx="140.6" cy="233.8" rx="26.0" ry="29.0" fill="#fff"/><text x="140.6" y="218.7" font-size="3.9" text-anchor="middle" fill="#3a3a3a">キッカーを通</text><text x="140.6" y="224.2" font-size="3.9" text-anchor="middle" fill="#3a3a3a">過する速度は時速</text><text x="140.6" y="229.7" font-size="3.9" text-anchor="middle" fill="#3a3a3a">60km前後になる。キ</text><text x="140.6" y="235.2" font-size="3.9" text-anchor="middle" fill="#3a3a3a">ッカーは7種類あり、それ</text><text x="140.6" y="240.7" font-size="3.9" text-anchor="middle" fill="#3a3a3a">ぞれ高さやカーブが違う</text><text x="140.6" y="246.2" font-size="3.9" text-anchor="middle" fill="#3a3a3a">ので自分の演技に合</text><text x="140.6" y="251.7" font-size="3.9" text-anchor="middle" fill="#3a3a3a">ったものを選ぶ。</text><path d="M356.0 103.5 L356.0 116.0" stroke="#fff" stroke-width="2"/><ellipse cx="355.7" cy="136.8" rx="23.5" ry="22.2" fill="#fff"/><text x="355.7" y="124.4" font-size="3.74" text-anchor="middle" fill="#3a3a3a">放物線のピーク</text><text x="355.7" y="129.9" font-size="3.74" text-anchor="middle" fill="#3a3a3a">で「ダブルフル」を完</text><text x="355.7" y="135.4" font-size="3.74" text-anchor="middle" fill="#3a3a3a">了し、一瞬間を置く。次</text><text x="355.7" y="140.9" font-size="3.74" text-anchor="middle" fill="#3a3a3a">の「フル」との区切りが</text><text x="355.7" y="146.4" font-size="3.74" text-anchor="middle" fill="#3a3a3a">つき、ジャッジに</text><text x="355.7" y="151.9" font-size="3.74" text-anchor="middle" fill="#3a3a3a">アピールできる</text><path d="M519.0 200.2 L532.0 200.2" stroke="#fff" stroke-width="2"/><ellipse cx="556.7" cy="200.0" rx="27.0" ry="23.0" fill="#fff"/><text x="556.7" y="185.98" font-size="4.4" text-anchor="middle" fill="#3a3a3a">この辺りで</text><text x="556.7" y="191.18" font-size="4.4" text-anchor="middle" fill="#3a3a3a">着地点との距離を</text><text x="556.7" y="196.38" font-size="4.4" text-anchor="middle" fill="#3a3a3a">目測し、ピッタリ着地</text><text x="556.7" y="201.58" font-size="4.4" text-anchor="middle" fill="#3a3a3a">できるように、最後の</text><text x="556.7" y="206.78" font-size="4.4" text-anchor="middle" fill="#3a3a3a">「フル」のスピードや</text><text x="556.7" y="211.98" font-size="4.4" text-anchor="middle" fill="#3a3a3a">身体の伸び具合</text><text x="556.7" y="217.18" font-size="4.4" text-anchor="middle" fill="#3a3a3a">を調節する。</text><path d="M533.5 433.0 L519.3 447.0" stroke="#fff" stroke-width="2"/><ellipse cx="553.5" cy="411.7" rx="28.5" ry="27.5" fill="#fff"/><text x="553.5" y="392.02" font-size="3.9" text-anchor="middle" fill="#3a3a3a">着地のとき</text><text x="553.5" y="397.29" font-size="3.9" text-anchor="middle" fill="#3a3a3a">の衝撃はジャンプの</text><text x="553.5" y="402.56" font-size="3.9" text-anchor="middle" fill="#3a3a3a">ノーマルヒルでのK点越</text><text x="553.5" y="407.83" font-size="3.9" text-anchor="middle" fill="#3a3a3a">えを上回るとされる。4階のビ</text><text x="553.5" y="413.1" font-size="3.9" text-anchor="middle" fill="#3a3a3a">ルから飛び降りるのに匹敵</text><text x="553.5" y="418.37" font-size="3.9" text-anchor="middle" fill="#3a3a3a">する。選手は腰にベルトを</text><text x="553.5" y="423.64" font-size="3.9" text-anchor="middle" fill="#3a3a3a">巻いたり、ひざに衝撃</text><text x="553.5" y="428.91" font-size="3.9" text-anchor="middle" fill="#3a3a3a">吸収材を敷くなど</text><text x="553.5" y="434.18" font-size="3.9" text-anchor="middle" fill="#3a3a3a">工夫している。</text><text x="391.7" y="482.4" font-size="4.34" fill="#222">着地のショックを和らげるため</text><text x="391.7" y="488" font-size="4.34" fill="#222">にランディングヒルは傾斜角37°</text><text x="391.7" y="493.6" font-size="4.34" fill="#222">の急斜面。なかなか雪を掘り起</text><text x="391.7" y="499.2" font-size="4.34" fill="#222">こして衝撃を吸収するように</text><text x="391.7" y="504.8" font-size="4.34" fill="#222">している。</text><text x="39" y="361.5" font-size="9.9" font-weight="bold" fill="#000">★<tspan dx="3">空中演技の組立</tspan></text><text x="37" y="370.5" font-size="4.8" fill="#555">エアリアルの技は年々複雑化、高度化している。男子は3つ</text><text x="37" y="376.75" font-size="4.8" fill="#555">の技を組み合わせるトリプル・ミックスが主流で、女子は2</text><text x="37" y="383" font-size="4.8" fill="#555">つの技を連続させるダブル・ミックスが一般的になっている。</text><text x="37" y="389.25" font-size="4.8" fill="#555">主に下に示した4種類の技を組み合わせて、男子はフルを2</text><text x="184" y="370.5" font-size="4.8" fill="#555">回とダブルフルを合わせたトリプル、女子はフルとダブルフ</text><text x="184" y="376.75" font-size="4.8" fill="#555">ルを合わせるダブルが現時点での最高難度とされる。男子の</text><text x="184" y="383" font-size="4.8" fill="#555">トリプル・ミックスの場合、ダブルフルを演技の最初、真中、</text><text x="184" y="389.25" font-size="4.8" fill="#555">最後のどこに入れても難度は変わらない</text><rect x="36.2" y="400.7" width="26.0" height="7.8" rx="3.9" fill="#000"/><text transform="translate(49.2 407.2) skewX(-10)" font-size="6.4" font-weight="bold" text-anchor="middle" fill="#fff">レイ</text><text x="49.3" y="418.3" font-size="7.4" font-weight="bold" text-anchor="middle" fill="#000">伸身宙返り</text><text x="14" y="500.5" font-size="5.34" fill="#1a1a1a">体を真っすぐに伸ばして後方</text><text x="14" y="506.8" font-size="5.34" fill="#1a1a1a">に一回転。腕は体側にそろえ</text><text x="14" y="513.1" font-size="5.34" fill="#1a1a1a">るか、左右に伸ばす</text><rect x="123.2" y="400.7" width="26.5" height="7.8" rx="3.9" fill="#000"/><text transform="translate(136.5 407.2) skewX(-10)" font-size="6.4" font-weight="bold" text-anchor="middle" fill="#fff">タック</text><text x="136" y="418.3" font-size="7.4" font-weight="bold" text-anchor="middle" fill="#000">抱え込み宙返り</text><text x="98" y="500.5" font-size="5.34" fill="#1a1a1a">上半身と太ももが90°以内の</text><text x="98" y="506.8" font-size="5.34" fill="#1a1a1a">角度を作るように屈伸して後</text><text x="98" y="513.1" font-size="5.34" fill="#1a1a1a">方に一回転。手はひざに当て</text><text x="98" y="519.4" font-size="5.34" fill="#1a1a1a">る</text><rect x="208.8" y="400.7" width="26.0" height="7.8" rx="3.9" fill="#2a35a8"/><text transform="translate(221.8 407.2) skewX(-10)" font-size="6.4" font-weight="bold" text-anchor="middle" fill="#fff">フル</text><text x="221.5" y="418.3" font-size="7.4" font-weight="bold" text-anchor="middle" fill="#000">一回ひねり宙返り</text><text x="184" y="500.5" font-size="5.34" fill="#1a1a1a">伸身で一回宙返りする間に体</text><text x="184" y="506.8" font-size="5.34" fill="#1a1a1a">の軸を中心に360°回転させる。</text><text x="184" y="513.1" font-size="5.34" fill="#1a1a1a">腕で縦回転とひねりをコント</text><text x="184" y="519.4" font-size="5.34" fill="#1a1a1a">ロールする</text><rect x="288.2" y="400.7" width="34.5" height="7.8" rx="3.9" fill="#a020b0"/><text transform="translate(305.5 407.2) skewX(-10)" font-size="6.4" font-weight="bold" text-anchor="middle" fill="#fff">ダブルフル</text><text x="306.5" y="418.3" font-size="7.4" font-weight="bold" text-anchor="middle" fill="#000">二回ひねり宙返り</text><text x="268" y="500.5" font-size="5.34" fill="#1a1a1a">伸身で一回宙返りする間に体</text><text x="268" y="506.8" font-size="5.34" fill="#1a1a1a">の軸を中心に720°回転させる。</text><text x="268" y="513.1" font-size="5.34" fill="#1a1a1a">腕を曲げて小さく、素早く回</text><text x="268" y="519.4" font-size="5.34" fill="#1a1a1a">るのも方法のひとつ</text><path d="M21.7 468.8 L22.7 470.8 L23.7 472.7 L24.9 474.5 L26.2 476.2 L27.6 477.9 L29.2 479.4 L30.8 480.8 L32.6 482.1 L34.4 483.3 L36.3 484.3 L38.3 485.2 L40.3 486.0 L42.4 486.6 L44.5 487.1 L46.7 487.4 L48.8 487.6 L51.0 487.6 L53.2 487.4 L55.3 487.2 L57.4 486.7 L59.5 486.1 L61.6 485.4 L63.5 484.5 L65.5 483.5 L67.3 482.3 L69.1 481.1 L70.7 479.7 L72.3 478.2 L73.7 476.6 L75.1 474.8 L76.3 473.0 L77.3 471.2 L78.3 469.2 L79.1 467.2 L79.8 465.1 L80.3 463.0 L80.6 460.9 L80.8 458.7 L80.9 456.5 L80.8 454.4 L80.6 452.2 L80.2 450.1 L79.6 448.0 L78.9 445.9 L78.1 443.9 L77.1 442.0 L76.0 440.1 L74.8 438.3 L73.4 436.6 L71.9 435.1 L70.3 433.6 L68.6 432.2 L66.9 431.0 L65.0 429.8 L63.1 428.9 L61.1 428.0 L59.0 427.3 L56.9 426.8 L54.8 426.4 L52.6 426.1 L50.5 426.0 L48.3 426.1 L46.1 426.3 L44.0 426.6 L41.9 427.1 L39.8 427.8 L37.8 428.6 L35.8 429.5 L34.0 430.6 L32.1 431.8 L30.4 433.1 L28.8 434.5 L27.3 436.1 L25.9 437.8 L24.6 439.5 L23.5 441.3 L22.4 443.3 L21.6 445.2 L20.8 447.3 L17.2 446.1 L21.5 456.4 L31.1 450.6 L27.5 449.4 L28.0 447.9 L28.7 446.3 L29.5 444.9 L30.4 443.4 L31.4 442.1 L32.5 440.8 L33.6 439.6 L34.9 438.5 L36.2 437.5 L37.6 436.5 L39.1 435.7 L40.6 435.0 L42.2 434.4 L43.8 433.9 L45.4 433.5 L47.0 433.2 L48.7 433.0 L50.4 433.0 L52.1 433.1 L53.7 433.3 L55.4 433.6 L57.0 434.0 L58.6 434.6 L60.1 435.2 L61.6 436.0 L63.1 436.8 L64.4 437.8 L65.7 438.9 L67.0 440.0 L68.1 441.2 L69.2 442.5 L70.1 443.9 L71.0 445.4 L71.7 446.9 L72.4 448.4 L72.9 450.0 L73.3 451.6 L73.6 453.3 L73.8 454.9 L73.9 456.6 L73.9 458.3 L73.7 459.9 L73.4 461.6 L73.0 463.2 L72.5 464.8 L71.9 466.4 L71.2 467.9 L70.3 469.3 L69.4 470.7 L68.4 472.1 L67.2 473.3 L66.0 474.5 L64.7 475.6 L63.4 476.5 L62.0 477.4 L60.5 478.2 L59.0 478.9 L57.4 479.5 L55.8 479.9 L54.1 480.3 L52.5 480.5 L50.8 480.6 L49.1 480.6 L47.4 480.5 L45.8 480.2 L44.1 479.8 L42.5 479.4 L41.0 478.8 L39.4 478.1 L38.0 477.3 L36.6 476.4 L35.2 475.4 L33.9 474.3 L32.7 473.1 L31.6 471.8 L30.6 470.5 L29.7 469.1 L28.9 467.6 L28.2 466.1 Z" fill="#3a972e"/><polyline points="67.5 405.5 82.5 466.0" fill="none" stroke="#e0405c" stroke-width="0.8" stroke-linecap="round" stroke-linejoin="round"/><polyline points="72.5 425.0 80.0 458.0" fill="none" stroke="#e0405c" stroke-width="0.7" stroke-linecap="round" stroke-linejoin="round"/><polyline points="35.0 478.0 46.0 465.5" fill="none" stroke="#d81b5c" stroke-width="12.0" stroke-linecap="round" stroke-linejoin="round"/><polyline points="46.0 465.5 60.0 450.0 72.0 438.0" fill="none" stroke="#d81b5c" stroke-width="7.4" stroke-linecap="round" stroke-linejoin="round"/><polyline points="72.0 438.0 75.0 432.0" fill="none" stroke="#d81b5c" stroke-width="3.5" stroke-linecap="round" stroke-linejoin="round"/><circle cx="32" cy="482.8" r="4.6" fill="#d81b5c"/><polyline points="39.0 472.0 51.0 459.0 65.0 445.0" fill="none" stroke="#f0709a" stroke-width="1.2" stroke-linecap="round" stroke-linejoin="round"/><path d="M106.5 468.8 L107.5 470.8 L108.5 472.7 L109.7 474.5 L111.0 476.2 L112.4 477.9 L114.0 479.4 L115.6 480.8 L117.4 482.1 L119.2 483.3 L121.1 484.3 L123.1 485.2 L125.1 486.0 L127.2 486.6 L129.3 487.1 L131.5 487.4 L133.6 487.6 L135.8 487.6 L138.0 487.4 L140.1 487.2 L142.2 486.7 L144.3 486.1 L146.4 485.4 L148.3 484.5 L150.3 483.5 L152.1 482.3 L153.9 481.1 L155.5 479.7 L157.1 478.2 L158.5 476.6 L159.9 474.8 L161.1 473.0 L162.1 471.2 L163.1 469.2 L163.9 467.2 L164.6 465.1 L165.1 463.0 L165.4 460.9 L165.6 458.7 L165.7 456.5 L165.6 454.4 L165.4 452.2 L165.0 450.1 L164.4 448.0 L163.7 445.9 L162.9 443.9 L161.9 442.0 L160.8 440.1 L159.6 438.3 L158.2 436.6 L156.7 435.1 L155.1 433.6 L153.4 432.2 L151.7 431.0 L149.8 429.8 L147.9 428.9 L145.9 428.0 L143.8 427.3 L141.7 426.8 L139.6 426.4 L137.4 426.1 L135.3 426.0 L133.1 426.1 L130.9 426.3 L128.8 426.6 L126.7 427.1 L124.6 427.8 L122.6 428.6 L120.6 429.5 L118.8 430.6 L116.9 431.8 L115.2 433.1 L113.6 434.5 L112.1 436.1 L110.7 437.8 L109.4 439.5 L108.3 441.3 L107.2 443.3 L106.4 445.2 L105.6 447.3 L102.0 446.1 L106.3 456.4 L115.9 450.6 L112.3 449.4 L112.8 447.9 L113.5 446.3 L114.3 444.9 L115.2 443.4 L116.2 442.1 L117.3 440.8 L118.4 439.6 L119.7 438.5 L121.0 437.5 L122.4 436.5 L123.9 435.7 L125.4 435.0 L127.0 434.4 L128.6 433.9 L130.2 433.5 L131.8 433.2 L133.5 433.0 L135.2 433.0 L136.9 433.1 L138.5 433.3 L140.2 433.6 L141.8 434.0 L143.4 434.6 L144.9 435.2 L146.4 436.0 L147.9 436.8 L149.2 437.8 L150.5 438.9 L151.8 440.0 L152.9 441.2 L154.0 442.5 L154.9 443.9 L155.8 445.4 L156.5 446.9 L157.2 448.4 L157.7 450.0 L158.1 451.6 L158.4 453.3 L158.6 454.9 L158.7 456.6 L158.7 458.3 L158.5 459.9 L158.2 461.6 L157.8 463.2 L157.3 464.8 L156.7 466.4 L156.0 467.9 L155.1 469.3 L154.2 470.7 L153.2 472.1 L152.0 473.3 L150.8 474.5 L149.5 475.6 L148.2 476.5 L146.8 477.4 L145.3 478.2 L143.8 478.9 L142.2 479.5 L140.6 479.9 L138.9 480.3 L137.3 480.5 L135.6 480.6 L133.9 480.6 L132.2 480.5 L130.6 480.2 L128.9 479.8 L127.3 479.4 L125.8 478.8 L124.2 478.1 L122.8 477.3 L121.4 476.4 L120.0 475.4 L118.7 474.3 L117.5 473.1 L116.4 471.8 L115.4 470.5 L114.5 469.1 L113.7 467.6 L113.0 466.1 Z" fill="#3a972e"/><polyline points="106.0 419.7 161.0 449.0" fill="none" stroke="#e0405c" stroke-width="0.8" stroke-linecap="round" stroke-linejoin="round"/><polyline points="131.5 475.0 136.0 464.0 141.0 455.0" fill="none" stroke="#d81b5c" stroke-width="12.0" stroke-linecap="round" stroke-linejoin="round"/><polyline points="141.0 452.0 134.0 449.0 126.5 452.5" fill="none" stroke="#d81b5c" stroke-width="8.5" stroke-linecap="round" stroke-linejoin="round"/><polyline points="126.5 452.5 129.0 444.0 132.7 436.0" fill="none" stroke="#d81b5c" stroke-width="5.5" stroke-linecap="round" stroke-linejoin="round"/><circle cx="130.5" cy="480.5" r="4.6" fill="#d81b5c"/><polyline points="136.0 470.0 139.0 458.0" fill="none" stroke="#f0709a" stroke-width="1.1" stroke-linecap="round" stroke-linejoin="round"/><path d="M191.5 468.8 L192.5 470.8 L193.5 472.7 L194.7 474.5 L196.0 476.2 L197.4 477.9 L199.0 479.4 L200.6 480.8 L202.4 482.1 L204.2 483.3 L206.1 484.3 L208.1 485.2 L210.1 486.0 L212.2 486.6 L214.3 487.1 L216.5 487.4 L218.6 487.6 L220.8 487.6 L223.0 487.4 L225.1 487.2 L227.2 486.7 L229.3 486.1 L231.4 485.4 L233.3 484.5 L235.3 483.5 L237.1 482.3 L238.9 481.1 L240.5 479.7 L242.1 478.2 L243.5 476.6 L244.9 474.8 L246.1 473.0 L247.1 471.2 L248.1 469.2 L248.9 467.2 L249.6 465.1 L250.1 463.0 L250.4 460.9 L250.6 458.7 L250.7 456.5 L250.6 454.4 L250.4 452.2 L250.0 450.1 L249.4 448.0 L248.7 445.9 L247.9 443.9 L246.9 442.0 L245.8 440.1 L244.6 438.3 L243.2 436.6 L241.7 435.1 L240.1 433.6 L238.4 432.2 L236.7 431.0 L234.8 429.8 L232.9 428.9 L230.9 428.0 L228.8 427.3 L226.7 426.8 L224.6 426.4 L222.4 426.1 L220.3 426.0 L218.1 426.1 L215.9 426.3 L213.8 426.6 L211.7 427.1 L209.6 427.8 L207.6 428.6 L205.6 429.5 L203.8 430.6 L201.9 431.8 L200.2 433.1 L198.6 434.5 L197.1 436.1 L195.7 437.8 L194.4 439.5 L193.3 441.3 L192.2 443.3 L191.4 445.2 L190.6 447.3 L187.0 446.1 L191.3 456.4 L200.9 450.6 L197.3 449.4 L197.8 447.9 L198.5 446.3 L199.3 444.9 L200.2 443.4 L201.2 442.1 L202.3 440.8 L203.4 439.6 L204.7 438.5 L206.0 437.5 L207.4 436.5 L208.9 435.7 L210.4 435.0 L212.0 434.4 L213.6 433.9 L215.2 433.5 L216.8 433.2 L218.5 433.0 L220.2 433.0 L221.9 433.1 L223.5 433.3 L225.2 433.6 L226.8 434.0 L228.4 434.6 L229.9 435.2 L231.4 436.0 L232.9 436.8 L234.2 437.8 L235.5 438.9 L236.8 440.0 L237.9 441.2 L239.0 442.5 L239.9 443.9 L240.8 445.4 L241.5 446.9 L242.2 448.4 L242.7 450.0 L243.1 451.6 L243.4 453.3 L243.6 454.9 L243.7 456.6 L243.7 458.3 L243.5 459.9 L243.2 461.6 L242.8 463.2 L242.3 464.8 L241.7 466.4 L241.0 467.9 L240.1 469.3 L239.2 470.7 L238.2 472.1 L237.0 473.3 L235.8 474.5 L234.5 475.6 L233.2 476.5 L231.8 477.4 L230.3 478.2 L228.8 478.9 L227.2 479.5 L225.6 479.9 L223.9 480.3 L222.3 480.5 L220.6 480.6 L218.9 480.6 L217.2 480.5 L215.6 480.2 L213.9 479.8 L212.3 479.4 L210.8 478.8 L209.2 478.1 L207.8 477.3 L206.4 476.4 L205.0 475.4 L203.7 474.3 L202.5 473.1 L201.4 471.8 L200.4 470.5 L199.5 469.1 L198.7 467.6 L198.0 466.1 Z" fill="#3a972e"/><g transform="translate(218.5 456.5) rotate(70)" fill="none" stroke-width="6"><path d="M-22 0 A22 10.5 0 0 1 22 0" stroke="#1f7cc0"/></g><polyline points="220.5 423.4 259.5 446.0" fill="none" stroke="#e0405c" stroke-width="1.0" stroke-linecap="round" stroke-linejoin="round"/><polyline points="225.0 428.5 258.5 448.0" fill="none" stroke="#e0405c" stroke-width="0.9" stroke-linecap="round" stroke-linejoin="round"/><polyline points="200.0 477.0 212.0 465.0" fill="none" stroke="#d81b5c" stroke-width="13.5" stroke-linecap="round" stroke-linejoin="round"/><polyline points="212.0 465.0 226.0 448.0 238.5 435.5" fill="none" stroke="#d81b5c" stroke-width="7.6" stroke-linecap="round" stroke-linejoin="round"/><polyline points="204.0 474.0 189.5 484.0" fill="none" stroke="#d81b5c" stroke-width="3.6" stroke-linecap="round" stroke-linejoin="round"/><polyline points="212.0 468.0 233.0 473.5" fill="none" stroke="#d81b5c" stroke-width="3.4" stroke-linecap="round" stroke-linejoin="round"/><circle cx="197" cy="475" r="4.3" fill="#d81b5c"/><g transform="translate(218.5 456.5) rotate(70)" fill="none" stroke-width="6"><path d="M-22 0 A22 10.5 0 0 0 22 0" stroke="#5cc0e8"/></g><polyline points="204.0 471.0 222.0 455.0 236.0 442.0" fill="none" stroke="#f0709a" stroke-width="1.2" stroke-linecap="round" stroke-linejoin="round"/><path d="M276.5 468.8 L277.5 470.8 L278.5 472.7 L279.7 474.5 L281.0 476.2 L282.4 477.9 L284.0 479.4 L285.6 480.8 L287.4 482.1 L289.2 483.3 L291.1 484.3 L293.1 485.2 L295.1 486.0 L297.2 486.6 L299.3 487.1 L301.5 487.4 L303.6 487.6 L305.8 487.6 L308.0 487.4 L310.1 487.2 L312.2 486.7 L314.3 486.1 L316.4 485.4 L318.3 484.5 L320.3 483.5 L322.1 482.3 L323.9 481.1 L325.5 479.7 L327.1 478.2 L328.5 476.6 L329.9 474.8 L331.1 473.0 L332.1 471.2 L333.1 469.2 L333.9 467.2 L334.6 465.1 L335.1 463.0 L335.4 460.9 L335.6 458.7 L335.7 456.5 L335.6 454.4 L335.4 452.2 L335.0 450.1 L334.4 448.0 L333.7 445.9 L332.9 443.9 L331.9 442.0 L330.8 440.1 L329.6 438.3 L328.2 436.6 L326.7 435.1 L325.1 433.6 L323.4 432.2 L321.7 431.0 L319.8 429.8 L317.9 428.9 L315.9 428.0 L313.8 427.3 L311.7 426.8 L309.6 426.4 L307.4 426.1 L305.3 426.0 L303.1 426.1 L300.9 426.3 L298.8 426.6 L296.7 427.1 L294.6 427.8 L292.6 428.6 L290.6 429.5 L288.8 430.6 L286.9 431.8 L285.2 433.1 L283.6 434.5 L282.1 436.1 L280.7 437.8 L279.4 439.5 L278.3 441.3 L277.2 443.3 L276.4 445.2 L275.6 447.3 L272.0 446.1 L276.3 456.4 L285.9 450.6 L282.3 449.4 L282.8 447.9 L283.5 446.3 L284.3 444.9 L285.2 443.4 L286.2 442.1 L287.3 440.8 L288.4 439.6 L289.7 438.5 L291.0 437.5 L292.4 436.5 L293.9 435.7 L295.4 435.0 L297.0 434.4 L298.6 433.9 L300.2 433.5 L301.8 433.2 L303.5 433.0 L305.2 433.0 L306.9 433.1 L308.5 433.3 L310.2 433.6 L311.8 434.0 L313.4 434.6 L314.9 435.2 L316.4 436.0 L317.9 436.8 L319.2 437.8 L320.5 438.9 L321.8 440.0 L322.9 441.2 L324.0 442.5 L324.9 443.9 L325.8 445.4 L326.5 446.9 L327.2 448.4 L327.7 450.0 L328.1 451.6 L328.4 453.3 L328.6 454.9 L328.7 456.6 L328.7 458.3 L328.5 459.9 L328.2 461.6 L327.8 463.2 L327.3 464.8 L326.7 466.4 L326.0 467.9 L325.1 469.3 L324.2 470.7 L323.2 472.1 L322.0 473.3 L320.8 474.5 L319.5 475.6 L318.2 476.5 L316.8 477.4 L315.3 478.2 L313.8 478.9 L312.2 479.5 L310.6 479.9 L308.9 480.3 L307.3 480.5 L305.6 480.6 L303.9 480.6 L302.2 480.5 L300.6 480.2 L298.9 479.8 L297.3 479.4 L295.8 478.8 L294.2 478.1 L292.8 477.3 L291.4 476.4 L290.0 475.4 L288.7 474.3 L287.5 473.1 L286.4 471.8 L285.4 470.5 L284.5 469.1 L283.7 467.6 L283.0 466.1 Z" fill="#3a972e"/><g transform="translate(296.0 457.8) rotate(68)" fill="none" stroke-width="5.6"><path d="M-22 0 A22 8.5 0 0 1 22 0" stroke="#1f7cc0"/></g><g transform="translate(311.5 455.5) rotate(68)" fill="none" stroke-width="5.6"><path d="M-22 0 A22 8.5 0 0 1 22 0" stroke="#1f7cc0"/></g><polyline points="305.5 423.5 343.5 446.2" fill="none" stroke="#e0405c" stroke-width="0.9" stroke-linecap="round" stroke-linejoin="round"/><polyline points="309.0 422.0 341.0 441.0" fill="none" stroke="#e0405c" stroke-width="0.8" stroke-linecap="round" stroke-linejoin="round"/><polyline points="282.0 477.5 297.0 465.0" fill="none" stroke="#d81b5c" stroke-width="11.0" stroke-linecap="round" stroke-linejoin="round"/><polyline points="297.0 465.0 312.0 449.0 325.0 437.0" fill="none" stroke="#d81b5c" stroke-width="7.0" stroke-linecap="round" stroke-linejoin="round"/><polyline points="290.0 472.0 280.0 488.0" fill="none" stroke="#d81b5c" stroke-width="3.2" stroke-linecap="round" stroke-linejoin="round"/><circle cx="278" cy="481.5" r="4.4" fill="#d81b5c"/><g transform="translate(296.0 457.8) rotate(68)" fill="none" stroke-width="5.6"><path d="M-22 0 A22 8.5 0 0 0 22 0" stroke="#5cc0e8"/></g><g transform="translate(311.5 455.5) rotate(68)" fill="none" stroke-width="5.6"><path d="M-22 0 A22 8.5 0 0 0 22 0" stroke="#5cc0e8"/></g><polyline points="288.0 473.0 306.0 456.0 320.0 442.0" fill="none" stroke="#f0709a" stroke-width="1.2" stroke-linecap="round" stroke-linejoin="round"/><polyline points="216.6 117.0 215.4 118.1 214.6 119.5 214.1 121.0 213.9 122.7 214.1 124.5 214.7 126.5 215.6 128.6 216.8 130.8 218.4 133.1 220.2 135.4 222.3 137.7 224.7 140.0 227.4 142.3" fill="none" stroke="#fffef0" stroke-width="11.8"/><polyline points="216.6 117.0 215.4 118.1 214.6 119.5 214.1 121.0 213.9 122.7 214.1 124.5 214.7 126.5 215.6 128.6 216.8 130.8 218.4 133.1 220.2 135.4 222.3 137.7 224.7 140.0 227.4 142.3" fill="none" stroke="#fcfb98" stroke-width="10.5"/><path d="M222.3 148.5 L232.0 146.1 L232.4 136.1 Z" fill="#fcfb98"/><polyline points="278.0 152.5 277.6 154.1 276.8 155.5 275.7 156.7 274.3 157.7 272.5 158.4 270.4 158.9 268.0 159.2 265.4 159.2 262.6 158.9 259.5 158.4 256.3 157.6 253.0 156.6 249.6 155.4" fill="none" stroke="#fffef0" stroke-width="11.8"/><polyline points="278.0 152.5 277.6 154.1 276.8 155.5 275.7 156.7 274.3 157.7 272.5 158.4 270.4 158.9 268.0 159.2 265.4 159.2 262.6 158.9 259.5 158.4 256.3 157.6 253.0 156.6 249.6 155.4" fill="none" stroke="#fcfb98" stroke-width="10.5"/><polyline points="201.7 142.5 200.5 143.7 199.6 145.1 199.2 146.7 199.1 148.6 199.4 150.6 200.2 152.7 201.3 155.0 202.8 157.4 204.6 159.8 206.8 162.3 209.2 164.8 212.0 167.2 215.0 169.6" fill="none" stroke="#fffef0" stroke-width="11.8"/><polyline points="201.7 142.5 200.5 143.7 199.6 145.1 199.2 146.7 199.1 148.6 199.4 150.6 200.2 152.7 201.3 155.0 202.8 157.4 204.6 159.8 206.8 162.3 209.2 164.8 212.0 167.2 215.0 169.6" fill="none" stroke="#fcfb98" stroke-width="10.5"/><path d="M210.1 176.0 L219.8 173.3 L219.8 163.3 Z" fill="#fcfb98"/><polyline points="264.9 179.0 264.5 180.5 263.8 181.9 262.7 183.1 261.3 184.1 259.5 184.8 257.5 185.3 255.2 185.6 252.6 185.6 249.8 185.3 246.9 184.8 243.7 184.1 240.4 183.2" fill="none" stroke="#fffef0" stroke-width="11.8"/><polyline points="264.9 179.0 264.5 180.5 263.8 181.9 262.7 183.1 261.3 184.1 259.5 184.8 257.5 185.3 255.2 185.6 252.6 185.6 249.8 185.3 246.9 184.8 243.7 184.1 240.4 183.2" fill="none" stroke="#fcfb98" stroke-width="10.5"/><polyline points="477.9 119.9 479.3 120.9 480.4 122.1 481.1 123.5 481.6 125.2 481.7 127.0 481.6 128.9 481.1 131.1 480.3 133.3 479.1 135.6 477.7 138.0 476.1 140.4 474.1 142.8" fill="none" stroke="#fffef0" stroke-width="12.8"/><polyline points="477.9 119.9 479.3 120.9 480.4 122.1 481.1 123.5 481.6 125.2 481.7 127.0 481.6 128.9 481.1 131.1 480.3 133.3 479.1 135.6 477.7 138.0 476.1 140.4 474.1 142.8" fill="none" stroke="#fcfb98" stroke-width="11.5"/><path d="M466.9 136.6 L469.5 148.1 L481.3 149.1 Z" fill="#fcfb98"/><polyline points="517.9 324.2 518.0 325.5 517.7 326.8 517.1 328.0 516.1 329.2 514.7 330.4 513.0 331.5 511.0 332.5 508.7 333.5 506.1 334.3 503.3 335.0 500.3 335.6 497.1 336.1 493.8 336.4" fill="none" stroke="#fffef0" stroke-width="11.8"/><polyline points="517.9 324.2 518.0 325.5 517.7 326.8 517.1 328.0 516.1 329.2 514.7 330.4 513.0 331.5 511.0 332.5 508.7 333.5 506.1 334.3 503.3 335.0 500.3 335.6 497.1 336.1 493.8 336.4" fill="none" stroke="#fcfb98" stroke-width="10.5"/><path d="M493.2 327.5 L485.9 337.0 L494.5 345.4 Z" fill="#fcfb98"/><polyline points="470.0 333.5 467.5 332.9 465.2 332.1 463.1 331.2 461.4 330.3 459.9 329.3 458.7 328.2 457.8 327.1 457.2 326.0 457.0 324.9 457.1 323.8" fill="none" stroke="#fffef0" stroke-width="10.3"/><polyline points="470.0 333.5 467.5 332.9 465.2 332.1 463.1 331.2 461.4 330.3 459.9 329.3 458.7 328.2 457.8 327.1 457.2 326.0 457.0 324.9 457.1 323.8" fill="none" stroke="#fcfb98" stroke-width="9.0"/><g transform="translate(221.0 134.0) rotate(64.0)"><text x="0" y="0" font-size="5.4" text-anchor="middle" fill="#111">ひねり</text></g><g transform="translate(206.5 161.0) rotate(66.0)"><text x="0" y="0" font-size="5.4" text-anchor="middle" fill="#111">ひねり</text></g><g transform="translate(477.0 134.5) rotate(72.0)"><text x="0" y="0" font-size="5.4" text-anchor="middle" fill="#111">ひねり</text></g><g transform="translate(507.5 334.5) rotate(-12.0)"><text x="0" y="0" font-size="5.4" text-anchor="middle" fill="#111">ひねり</text></g><g transform="translate(273.0 191.3) rotate(-33.0)"><text x="0" y="0" font-size="5.4" text-anchor="middle" fill="#111">1回転</text></g><g transform="translate(462.0 92.0) rotate(8.0)"><text x="0" y="0" font-size="5.4" text-anchor="middle" fill="#111">1回転</text></g><g transform="translate(525.4 292.0) rotate(52.0)"><text x="0" y="0" font-size="5.4" text-anchor="middle" fill="#111">1回転</text></g><g fill="none" stroke-linecap="round" stroke-linejoin="round"><g stroke="#fbb878"><polyline points="12.5 214.0 18.5 223.0 19.3 232.0" stroke-width="2.8"/><polyline points="19.3 232.0 19.3 232.0" stroke-width="3.2"/><polyline points="12.5 214.0 6.0 222.0 12.0 220.0" stroke-width="2.8"/><polyline points="12.0 220.0 12.0 220.0" stroke-width="3.2"/><polyline points="11.5 228.0 9.0 240.0 8.7 251.0" stroke-width="3.3"/><polyline points="9.0 240.0 9.0 240.0" stroke-width="3.8"/><polyline points="11.5 228.0 14.5 241.0 14.5 254.0" stroke-width="3.3"/><polyline points="14.5 241.0 14.5 241.0" stroke-width="3.8"/><polyline points="12.5 214.0 11.5 228.0" stroke-width="4.2"/><polyline points="12.3 217.4 12.1 219.0" stroke-width="11.0"/><polyline points="11.7 225.8 11.5 227.7" stroke-width="7.1"/><polyline points="12.5 214.0 13.3 208.0" stroke-width="2.6"/></g><g stroke="#f97f0e"><polyline points="12.5 214.0 18.5 223.0 19.3 232.0" stroke-width="2.0"/><polyline points="19.3 232.0 19.3 232.0" stroke-width="2.4"/><polyline points="12.5 214.0 6.0 222.0 12.0 220.0" stroke-width="2.0"/><polyline points="12.0 220.0 12.0 220.0" stroke-width="2.4"/><polyline points="11.5 228.0 9.0 240.0 8.7 251.0" stroke-width="2.5"/><polyline points="9.0 240.0 9.0 240.0" stroke-width="3.0"/><polyline points="11.5 228.0 14.5 241.0 14.5 254.0" stroke-width="2.5"/><polyline points="14.5 241.0 14.5 241.0" stroke-width="3.0"/><polyline points="12.5 214.0 11.5 228.0" stroke-width="3.4"/><polyline points="12.3 217.4 12.1 219.0" stroke-width="10.2"/><polyline points="11.7 225.8 11.5 227.7" stroke-width="6.3"/><polyline points="12.5 214.0 13.3 208.0" stroke-width="1.8"/></g></g><circle cx="13.3" cy="208.0" r="3.5" fill="#f97f0e" stroke="#fbb878" stroke-width="0.5"/><path d="M9.0 207.2 A4.4 4.4 0 0 1 17.7 208.4 Z" fill="#e01a24"/><rect x="6.3" y="250.5" width="4.6" height="3" fill="#2fae3a"/><rect x="12.2" y="254" width="4.6" height="3" fill="#2fae3a"/><path d="M56.0 291.5 L80.0 314.0" stroke="#4fb85a" stroke-width="0.9" stroke-linecap="round"/><g fill="none" stroke-linecap="round" stroke-linejoin="round"><g stroke="#fbb878"><polyline points="84.0 277.5 78.0 282.0 73.0 283.0" stroke-width="2.7"/><polyline points="73.0 283.0 73.0 283.0" stroke-width="3.1"/><polyline points="66.9 277.0 70.4 284.5 58.5 291.8" stroke-width="3.2"/><polyline points="70.4 284.5 70.4 284.5" stroke-width="3.6"/><polyline points="70.1 279.0 73.6 286.5 60.5 293.2" stroke-width="3.2"/><polyline points="73.6 286.5 73.6 286.5" stroke-width="3.6"/><polyline points="84.0 277.5 68.5 278.0" stroke-width="4.0"/><polyline points="80.3 277.6 78.4 277.7" stroke-width="10.5"/><polyline points="71.0 277.9 68.8 278.0" stroke-width="6.8"/><polyline points="84.0 277.5 89.0 274.0" stroke-width="2.5"/></g><g stroke="#f97f0e"><polyline points="84.0 277.5 78.0 282.0 73.0 283.0" stroke-width="1.9"/><polyline points="73.0 283.0 73.0 283.0" stroke-width="2.3"/><polyline points="66.9 277.0 70.4 284.5 58.5 291.8" stroke-width="2.4"/><polyline points="70.4 284.5 70.4 284.5" stroke-width="2.8"/><polyline points="70.1 279.0 73.6 286.5 60.5 293.2" stroke-width="2.4"/><polyline points="73.6 286.5 73.6 286.5" stroke-width="2.8"/><polyline points="84.0 277.5 68.5 278.0" stroke-width="3.2"/><polyline points="80.3 277.6 78.4 277.7" stroke-width="9.7"/><polyline points="71.0 277.9 68.8 278.0" stroke-width="6.0"/><polyline points="84.0 277.5 89.0 274.0" stroke-width="1.7"/></g></g><circle cx="89.0" cy="274.0" r="3.3" fill="#f97f0e" stroke="#fbb878" stroke-width="0.5"/><path d="M86.8 270.5 A4.2 4.2 0 0 1 91.6 277.3 Z" fill="#e01a24"/><g fill="none" stroke-linecap="round" stroke-linejoin="round"><g stroke="#fbb878"><polyline points="154.0 302.5 145.0 306.0 136.0 308.0" stroke-width="2.6"/><polyline points="136.0 308.0 136.0 308.0" stroke-width="3.0"/><polyline points="144.7 316.0 144.2 327.0 144.8 337.5" stroke-width="3.0"/><polyline points="144.2 327.0 144.2 327.0" stroke-width="3.5"/><polyline points="148.3 316.0 147.8 327.0 147.2 337.5" stroke-width="3.0"/><polyline points="147.8 327.0 147.8 327.0" stroke-width="3.5"/><polyline points="154.0 302.5 146.5 316.0" stroke-width="3.9"/><polyline points="152.2 305.7 151.3 307.4" stroke-width="10.0"/><polyline points="147.7 313.8 146.7 315.7" stroke-width="6.5"/><polyline points="154.0 302.5 156.0 294.0" stroke-width="2.4"/></g><g stroke="#f97f0e"><polyline points="154.0 302.5 145.0 306.0 136.0 308.0" stroke-width="1.8"/><polyline points="136.0 308.0 136.0 308.0" stroke-width="2.2"/><polyline points="144.7 316.0 144.2 327.0 144.8 337.5" stroke-width="2.2"/><polyline points="144.2 327.0 144.2 327.0" stroke-width="2.7"/><polyline points="148.3 316.0 147.8 327.0 147.2 337.5" stroke-width="2.2"/><polyline points="147.8 327.0 147.8 327.0" stroke-width="2.7"/><polyline points="154.0 302.5 146.5 316.0" stroke-width="3.1"/><polyline points="152.2 305.7 151.3 307.4" stroke-width="9.2"/><polyline points="147.7 313.8 146.7 315.7" stroke-width="5.7"/><polyline points="154.0 302.5 156.0 294.0" stroke-width="1.6"/></g></g><circle cx="156.0" cy="294.0" r="3.1" fill="#f97f0e" stroke="#fbb878" stroke-width="0.5"/><path d="M152.2 292.9 A4.0 4.0 0 0 1 159.9 294.7 Z" fill="#e01a24"/><path d="M231.5 259.5 L228.3 280 Q226.5 286 224.3 291" fill="none" stroke="#6fd8b8" stroke-width="1"/><g fill="none" stroke-linecap="round" stroke-linejoin="round"><g stroke="#fbb878"><polyline points="188.0 276.5 189.5 266.0 190.6 256.0" stroke-width="2.6"/><polyline points="190.6 256.0 190.6 256.0" stroke-width="3.0"/><polyline points="202.5 281.7 213.5 284.7 224.7 287.6" stroke-width="3.0"/><polyline points="213.5 284.7 213.5 284.7" stroke-width="3.5"/><polyline points="203.5 278.3 214.5 281.3 225.3 285.4" stroke-width="3.0"/><polyline points="214.5 281.3 214.5 281.3" stroke-width="3.5"/><polyline points="188.0 276.5 203.0 280.0" stroke-width="3.9"/><polyline points="191.6 277.3 193.4 277.8" stroke-width="10.0"/><polyline points="200.6 279.4 202.7 279.9" stroke-width="6.5"/><polyline points="188.0 276.5 180.6 275.6" stroke-width="2.4"/></g><g stroke="#f97f0e"><polyline points="188.0 276.5 189.5 266.0 190.6 256.0" stroke-width="1.8"/><polyline points="190.6 256.0 190.6 256.0" stroke-width="2.2"/><polyline points="202.5 281.7 213.5 284.7 224.7 287.6" stroke-width="2.2"/><polyline points="213.5 284.7 213.5 284.7" stroke-width="2.7"/><polyline points="203.5 278.3 214.5 281.3 225.3 285.4" stroke-width="2.2"/><polyline points="214.5 281.3 214.5 281.3" stroke-width="2.7"/><polyline points="188.0 276.5 203.0 280.0" stroke-width="3.1"/><polyline points="191.6 277.3 193.4 277.8" stroke-width="9.2"/><polyline points="200.6 279.4 202.7 279.9" stroke-width="5.7"/><polyline points="188.0 276.5 180.6 275.6" stroke-width="1.6"/></g></g><circle cx="180.6" cy="275.6" r="3.1" fill="#f97f0e" stroke="#fbb878" stroke-width="0.5"/><path d="M179.9 279.5 A4.0 4.0 0 0 1 180.9 271.7 Z" fill="#e01a24"/><path d="M18.5 266.5 v5 M19.5 268 v4" stroke="#e03050" stroke-width="0.8"/><g fill="none" stroke-linecap="round" stroke-linejoin="round"><g stroke="#fbb878"><polyline points="199.0 246.0 190.0 244.0 182.0 245.0" stroke-width="2.8"/><polyline points="182.0 245.0 182.0 245.0" stroke-width="3.2"/><polyline points="199.0 246.0 210.0 250.0 220.5 253.0" stroke-width="2.8"/><polyline points="220.5 253.0 220.5 253.0" stroke-width="3.2"/><polyline points="213.8 240.4 223.8 235.8 234.5 230.2" stroke-width="3.3"/><polyline points="223.8 235.8 223.8 235.8" stroke-width="3.8"/><polyline points="212.2 236.8 222.2 232.2 233.5 227.8" stroke-width="3.3"/><polyline points="222.2 232.2 222.2 232.2" stroke-width="3.8"/><polyline points="199.0 246.0 213.0 238.6" stroke-width="4.2"/><polyline points="202.4 244.2 204.0 243.3" stroke-width="11.0"/><polyline points="210.8 239.8 212.7 238.7" stroke-width="7.1"/><polyline points="199.0 246.0 193.0 248.3" stroke-width="2.6"/></g><g stroke="#f97f0e"><polyline points="199.0 246.0 190.0 244.0 182.0 245.0" stroke-width="2.0"/><polyline points="182.0 245.0 182.0 245.0" stroke-width="2.4"/><polyline points="199.0 246.0 210.0 250.0 220.5 253.0" stroke-width="2.0"/><polyline points="220.5 253.0 220.5 253.0" stroke-width="2.4"/><polyline points="213.8 240.4 223.8 235.8 234.5 230.2" stroke-width="2.5"/><polyline points="223.8 235.8 223.8 235.8" stroke-width="3.0"/><polyline points="212.2 236.8 222.2 232.2 233.5 227.8" stroke-width="2.5"/><polyline points="222.2 232.2 222.2 232.2" stroke-width="3.0"/><polyline points="199.0 246.0 213.0 238.6" stroke-width="3.4"/><polyline points="202.4 244.2 204.0 243.3" stroke-width="10.2"/><polyline points="210.8 239.8 212.7 238.7" stroke-width="6.3"/><polyline points="199.0 246.0 193.0 248.3" stroke-width="1.8"/></g></g><circle cx="193.0" cy="248.3" r="3.5" fill="#f97f0e" stroke="#fbb878" stroke-width="0.5"/><path d="M194.4 252.5 A4.4 4.4 0 0 1 191.2 244.3 Z" fill="#e01a24"/><g transform="translate(240.0 228.5) rotate(-28.0)"><rect x="-4.5" y="-3.5" width="9.0" height="7.0" fill="#58c870" stroke="#1f9a3a" stroke-width="0.8"/><path d="M0 -3.5 V3.5" stroke="#1f9a3a" stroke-width="0.8"/></g><g fill="none" stroke-linecap="round" stroke-linejoin="round"><g stroke="#fbb878"><polyline points="208.0 217.0 201.0 213.0 195.0 213.0" stroke-width="2.6"/><polyline points="195.0 213.0 195.0 213.0" stroke-width="3.0"/><polyline points="208.0 217.0 219.0 219.0 228.0 219.0" stroke-width="2.6"/><polyline points="228.0 219.0 228.0 219.0" stroke-width="3.0"/><polyline points="223.3 213.3 231.3 205.3 238.8 196.8" stroke-width="3.0"/><polyline points="231.3 205.3 231.3 205.3" stroke-width="3.5"/><polyline points="220.7 210.7 228.7 202.7 237.2 195.2" stroke-width="3.0"/><polyline points="228.7 202.7 228.7 202.7" stroke-width="3.5"/><polyline points="208.0 217.0 222.0 212.0" stroke-width="3.9"/><polyline points="211.4 215.8 213.0 215.2" stroke-width="10.0"/><polyline points="219.8 212.8 221.7 212.1" stroke-width="6.5"/><polyline points="208.0 217.0 202.5 219.0" stroke-width="2.4"/></g><g stroke="#f97f0e"><polyline points="208.0 217.0 201.0 213.0 195.0 213.0" stroke-width="1.8"/><polyline points="195.0 213.0 195.0 213.0" stroke-width="2.2"/><polyline points="208.0 217.0 219.0 219.0 228.0 219.0" stroke-width="1.8"/><polyline points="228.0 219.0 228.0 219.0" stroke-width="2.2"/><polyline points="223.3 213.3 231.3 205.3 238.8 196.8" stroke-width="2.2"/><polyline points="231.3 205.3 231.3 205.3" stroke-width="2.7"/><polyline points="220.7 210.7 228.7 202.7 237.2 195.2" stroke-width="2.2"/><polyline points="228.7 202.7 228.7 202.7" stroke-width="2.7"/><polyline points="208.0 217.0 222.0 212.0" stroke-width="3.1"/><polyline points="211.4 215.8 213.0 215.2" stroke-width="9.2"/><polyline points="219.8 212.8 221.7 212.1" stroke-width="5.7"/><polyline points="208.0 217.0 202.5 219.0" stroke-width="1.6"/></g></g><circle cx="202.5" cy="219.0" r="3.1" fill="#f97f0e" stroke="#fbb878" stroke-width="0.5"/><path d="M203.7 222.8 A4.0 4.0 0 0 1 201.0 215.4 Z" fill="#e01a24"/><g transform="translate(235.5 156.0) rotate(24.0)"><rect x="-5.0" y="-5.5" width="10.0" height="11.0" fill="#9fe0a4" stroke="#3db255" stroke-width="0.8"/><path d="M0 -5.5 V5.5" stroke="#3db255" stroke-width="0.8"/></g><g fill="none" stroke-linecap="round" stroke-linejoin="round"><g stroke="#fbb878"><polyline points="220.5 190.0 215.0 182.0 212.5 173.0" stroke-width="2.7"/><polyline points="212.5 173.0 212.5 173.0" stroke-width="3.1"/><polyline points="229.2 176.3 233.2 167.8 236.1 159.5" stroke-width="3.2"/><polyline points="233.2 167.8 233.2 167.8" stroke-width="3.6"/><polyline points="225.8 174.7 229.8 166.2 233.9 158.5" stroke-width="3.2"/><polyline points="229.8 166.2 229.8 166.2" stroke-width="3.6"/><polyline points="220.5 190.0 227.5 175.5" stroke-width="4.0"/><polyline points="222.2 186.5 223.0 184.8" stroke-width="10.5"/><polyline points="226.4 177.8 227.4 175.8" stroke-width="6.8"/><polyline points="220.5 190.0 216.0 197.5" stroke-width="2.5"/></g><g stroke="#f97f0e"><polyline points="220.5 190.0 215.0 182.0 212.5 173.0" stroke-width="1.9"/><polyline points="212.5 173.0 212.5 173.0" stroke-width="2.3"/><polyline points="229.2 176.3 233.2 167.8 236.1 159.5" stroke-width="2.4"/><polyline points="233.2 167.8 233.2 167.8" stroke-width="2.8"/><polyline points="225.8 174.7 229.8 166.2 233.9 158.5" stroke-width="2.4"/><polyline points="229.8 166.2 229.8 166.2" stroke-width="2.8"/><polyline points="220.5 190.0 227.5 175.5" stroke-width="3.2"/><polyline points="222.2 186.5 223.0 184.8" stroke-width="9.7"/><polyline points="226.4 177.8 227.4 175.8" stroke-width="6.0"/><polyline points="220.5 190.0 216.0 197.5" stroke-width="1.7"/></g></g><circle cx="216.0" cy="197.5" r="3.3" fill="#f97f0e" stroke="#fbb878" stroke-width="0.5"/><path d="M219.5 199.8 A4.2 4.2 0 0 1 212.3 195.5 Z" fill="#e01a24"/><g fill="none" stroke-linecap="round" stroke-linejoin="round"><g stroke="#fbb878"><polyline points="248.5 149.0 240.0 144.0 232.0 140.0" stroke-width="2.6"/><polyline points="232.0 140.0 232.0 140.0" stroke-width="3.0"/><polyline points="248.5 149.0 252.0 146.0 254.0 140.0" stroke-width="2.6"/><polyline points="254.0 140.0 254.0 140.0" stroke-width="3.0"/><polyline points="245.3 135.8 243.8 124.8 242.2 112.9" stroke-width="3.0"/><polyline points="243.8 124.8 243.8 124.8" stroke-width="3.5"/><polyline points="241.7 136.2 240.2 125.2 239.8 113.1" stroke-width="3.0"/><polyline points="240.2 125.2 240.2 125.2" stroke-width="3.5"/><polyline points="248.5 149.0 243.5 136.0" stroke-width="3.9"/><polyline points="247.3 145.9 246.7 144.3" stroke-width="10.0"/><polyline points="244.3 138.1 243.6 136.3" stroke-width="6.5"/><polyline points="248.5 149.0 251.5 155.0" stroke-width="2.4"/></g><g stroke="#f97f0e"><polyline points="248.5 149.0 240.0 144.0 232.0 140.0" stroke-width="1.8"/><polyline points="232.0 140.0 232.0 140.0" stroke-width="2.2"/><polyline points="248.5 149.0 252.0 146.0 254.0 140.0" stroke-width="1.8"/><polyline points="254.0 140.0 254.0 140.0" stroke-width="2.2"/><polyline points="245.3 135.8 243.8 124.8 242.2 112.9" stroke-width="2.2"/><polyline points="243.8 124.8 243.8 124.8" stroke-width="2.7"/><polyline points="241.7 136.2 240.2 125.2 239.8 113.1" stroke-width="2.2"/><polyline points="240.2 125.2 240.2 125.2" stroke-width="2.7"/><polyline points="248.5 149.0 243.5 136.0" stroke-width="3.1"/><polyline points="247.3 145.9 246.7 144.3" stroke-width="9.2"/><polyline points="244.3 138.1 243.6 136.3" stroke-width="5.7"/><polyline points="248.5 149.0 251.5 155.0" stroke-width="1.6"/></g></g><circle cx="251.5" cy="155.0" r="3.1" fill="#f97f0e" stroke="#fbb878" stroke-width="0.5"/><path d="M255.1 153.4 A4.0 4.0 0 0 1 248.1 156.9 Z" fill="#e01a24"/><path d="M249.7 73.6 L268.0 94.0" stroke="#3fae4a" stroke-width="1.0" stroke-linecap="round"/><path d="M220.0 102.5 L257.5 112.5" stroke="#3fae4a" stroke-width="0.9" stroke-linecap="round"/><g transform="translate(249.0 93.0) rotate(35.0)"><rect x="-6.0" y="-4.0" width="12.0" height="8.0" fill="#58c870" stroke="#1f7a3a" stroke-width="0.8"/><path d="M0 -4.0 V4.0" stroke="#1f7a3a" stroke-width="0.8"/></g><g fill="none" stroke-linecap="round" stroke-linejoin="round"><g stroke="#fbb878"><polyline points="284.0 118.5 272.0 121.0 261.7 121.0" stroke-width="2.8"/><polyline points="261.7 121.0 261.7 121.0" stroke-width="3.2"/><polyline points="284.0 118.5 282.0 108.0 280.0 98.5" stroke-width="2.8"/><polyline points="280.0 98.5 280.0 98.5" stroke-width="3.2"/><polyline points="272.1 106.3 263.1 100.3 254.7 95.9" stroke-width="3.3"/><polyline points="263.1 100.3 263.1 100.3" stroke-width="3.8"/><polyline points="269.9 109.7 260.9 103.7 253.3 98.1" stroke-width="3.3"/><polyline points="260.9 103.7 260.9 103.7" stroke-width="3.8"/><polyline points="284.0 118.5 271.0 108.0" stroke-width="4.2"/><polyline points="280.9 116.0 279.3 114.7" stroke-width="11.0"/><polyline points="273.1 109.7 271.3 108.2" stroke-width="7.1"/><polyline points="284.0 118.5 289.0 122.5" stroke-width="2.6"/></g><g stroke="#f97f0e"><polyline points="284.0 118.5 272.0 121.0 261.7 121.0" stroke-width="2.0"/><polyline points="261.7 121.0 261.7 121.0" stroke-width="2.4"/><polyline points="284.0 118.5 282.0 108.0 280.0 98.5" stroke-width="2.0"/><polyline points="280.0 98.5 280.0 98.5" stroke-width="2.4"/><polyline points="272.1 106.3 263.1 100.3 254.7 95.9" stroke-width="2.5"/><polyline points="263.1 100.3 263.1 100.3" stroke-width="3.0"/><polyline points="269.9 109.7 260.9 103.7 253.3 98.1" stroke-width="2.5"/><polyline points="260.9 103.7 260.9 103.7" stroke-width="3.0"/><polyline points="284.0 118.5 271.0 108.0" stroke-width="3.4"/><polyline points="280.9 116.0 279.3 114.7" stroke-width="10.2"/><polyline points="273.1 109.7 271.3 108.2" stroke-width="6.3"/><polyline points="284.0 118.5 289.0 122.5" stroke-width="1.8"/></g></g><circle cx="289.0" cy="122.5" r="3.5" fill="#f97f0e" stroke="#fbb878" stroke-width="0.5"/><path d="M291.9 119.2 A4.4 4.4 0 0 1 286.4 126.1 Z" fill="#e01a24"/><g fill="none" stroke-linecap="round" stroke-linejoin="round"><g stroke="#fbb878"><polyline points="304.0 81.0 296.0 86.0 288.0 89.0" stroke-width="2.7"/><polyline points="288.0 89.0 288.0 89.0" stroke-width="3.1"/><polyline points="287.3 80.7 276.3 84.7 264.6 89.8" stroke-width="3.2"/><polyline points="276.3 84.7 276.4 84.7" stroke-width="3.6"/><polyline points="288.7 84.3 277.7 88.3 265.4 92.2" stroke-width="3.2"/><polyline points="277.7 88.3 277.7 88.3" stroke-width="3.6"/><polyline points="304.0 81.0 288.0 82.5" stroke-width="4.0"/><polyline points="300.2 81.4 298.2 81.5" stroke-width="10.5"/><polyline points="290.6 82.3 288.3 82.5" stroke-width="6.8"/><polyline points="304.0 81.0 310.5 83.5" stroke-width="2.5"/></g><g stroke="#f97f0e"><polyline points="304.0 81.0 296.0 86.0 288.0 89.0" stroke-width="1.9"/><polyline points="288.0 89.0 288.0 89.0" stroke-width="2.3"/><polyline points="287.3 80.7 276.3 84.7 264.6 89.8" stroke-width="2.4"/><polyline points="276.3 84.7 276.4 84.7" stroke-width="2.8"/><polyline points="288.7 84.3 277.7 88.3 265.4 92.2" stroke-width="2.4"/><polyline points="277.7 88.3 277.7 88.3" stroke-width="2.8"/><polyline points="304.0 81.0 288.0 82.5" stroke-width="3.2"/><polyline points="300.2 81.4 298.2 81.5" stroke-width="9.7"/><polyline points="290.6 82.3 288.3 82.5" stroke-width="6.0"/><polyline points="304.0 81.0 310.5 83.5" stroke-width="1.7"/></g></g><circle cx="310.5" cy="83.5" r="3.3" fill="#f97f0e" stroke="#fbb878" stroke-width="0.5"/><path d="M312.2 79.7 A4.2 4.2 0 0 1 309.2 87.5 Z" fill="#e01a24"/><g transform="translate(316.5 96.0) rotate(-40.0)"><rect x="-5.5" y="-4.5" width="11.0" height="9.0" fill="#9fe0a4" stroke="#5cc070" stroke-width="0.8"/><path d="M0 -4.5 V4.5" stroke="#5cc070" stroke-width="0.8"/></g><g fill="none" stroke-linecap="round" stroke-linejoin="round"><g stroke="#fbb878"><polyline points="340.0 65.0 342.0 70.0 340.8 74.0" stroke-width="2.8"/><polyline points="340.8 74.0 340.8 74.0" stroke-width="3.2"/><polyline points="340.0 65.0 331.0 66.0 326.7 68.0" stroke-width="2.8"/><polyline points="326.7 68.0 326.7 68.0" stroke-width="3.2"/><polyline points="328.1 78.6 321.6 84.6 317.1 90.6" stroke-width="3.3"/><polyline points="321.6 84.6 321.6 84.6" stroke-width="3.8"/><polyline points="330.9 81.4 324.4 87.4 318.9 92.4" stroke-width="3.3"/><polyline points="324.4 87.4 324.4 87.4" stroke-width="3.8"/><polyline points="340.0 65.0 329.5 80.0" stroke-width="4.2"/><polyline points="337.5 68.6 336.2 70.4" stroke-width="11.0"/><polyline points="331.2 77.6 329.7 79.7" stroke-width="7.1"/><polyline points="340.0 65.0 344.0 59.5" stroke-width="2.6"/></g><g stroke="#f97f0e"><polyline points="340.0 65.0 342.0 70.0 340.8 74.0" stroke-width="2.0"/><polyline points="340.8 74.0 340.8 74.0" stroke-width="2.4"/><polyline points="340.0 65.0 331.0 66.0 326.7 68.0" stroke-width="2.0"/><polyline points="326.7 68.0 326.7 68.0" stroke-width="2.4"/><polyline points="328.1 78.6 321.6 84.6 317.1 90.6" stroke-width="2.5"/><polyline points="321.6 84.6 321.6 84.6" stroke-width="3.0"/><polyline points="330.9 81.4 324.4 87.4 318.9 92.4" stroke-width="2.5"/><polyline points="324.4 87.4 324.4 87.4" stroke-width="3.0"/><polyline points="340.0 65.0 329.5 80.0" stroke-width="3.4"/><polyline points="337.5 68.6 336.2 70.4" stroke-width="10.2"/><polyline points="331.2 77.6 329.7 79.7" stroke-width="6.3"/><polyline points="340.0 65.0 344.0 59.5" stroke-width="1.8"/></g></g><circle cx="344.0" cy="59.5" r="3.5" fill="#f97f0e" stroke="#fbb878" stroke-width="0.5"/><path d="M340.6 56.7 A4.4 4.4 0 0 1 347.7 61.9 Z" fill="#e01a24"/><path d="M340.0 82.5 L380.0 108.5" stroke="#3fae4a" stroke-width="1.0" stroke-linecap="round"/><g fill="none" stroke-linecap="round" stroke-linejoin="round"><g stroke="#fbb878"><polyline points="365.5 57.0 368.5 66.0 368.0 76.0" stroke-width="2.6"/><polyline points="368.0 76.0 368.0 76.0" stroke-width="3.0"/><polyline points="364.2 74.7 362.7 84.7 360.9 95.3" stroke-width="3.0"/><polyline points="362.7 84.7 362.7 84.7" stroke-width="3.5"/><polyline points="367.8 75.3 366.3 85.3 363.1 95.7" stroke-width="3.0"/><polyline points="366.3 85.3 366.3 85.3" stroke-width="3.5"/><polyline points="365.5 57.0 366.0 75.0" stroke-width="3.9"/><polyline points="365.6 61.3 365.7 63.5" stroke-width="10.0"/><polyline points="365.9 72.1 366.0 74.6" stroke-width="6.5"/><polyline points="365.5 57.0 364.0 50.0" stroke-width="2.4"/></g><g stroke="#f97f0e"><polyline points="365.5 57.0 368.5 66.0 368.0 76.0" stroke-width="1.8"/><polyline points="368.0 76.0 368.0 76.0" stroke-width="2.2"/><polyline points="364.2 74.7 362.7 84.7 360.9 95.3" stroke-width="2.2"/><polyline points="362.7 84.7 362.7 84.7" stroke-width="2.7"/><polyline points="367.8 75.3 366.3 85.3 363.1 95.7" stroke-width="2.2"/><polyline points="366.3 85.3 366.3 85.3" stroke-width="2.7"/><polyline points="365.5 57.0 366.0 75.0" stroke-width="3.1"/><polyline points="365.6 61.3 365.7 63.5" stroke-width="9.2"/><polyline points="365.9 72.1 366.0 74.6" stroke-width="5.7"/><polyline points="365.5 57.0 364.0 50.0" stroke-width="1.6"/></g></g><circle cx="364.0" cy="50.0" r="3.1" fill="#f97f0e" stroke="#fbb878" stroke-width="0.5"/><path d="M360.1 50.6 A4.0 4.0 0 0 1 367.8 49.0 Z" fill="#e01a24"/><g transform="translate(419.5 98.5) rotate(35.0)"><rect x="-6.0" y="-4.5" width="12.0" height="9.0" fill="#35c24a" stroke="#b8f0c0" stroke-width="0.8"/><path d="M0 -4.5 V4.5" stroke="#b8f0c0" stroke-width="0.8"/></g><g fill="none" stroke-linecap="round" stroke-linejoin="round"><g stroke="#fbb878"><polyline points="390.0 64.0 385.0 52.0 383.5 46.0" stroke-width="2.8"/><polyline points="383.5 46.0 383.5 46.0" stroke-width="3.2"/><polyline points="390.0 64.0 387.0 76.0 389.0 86.0" stroke-width="2.8"/><polyline points="389.0 86.0 389.0 86.0" stroke-width="3.2"/><polyline points="400.4 79.8 406.9 87.8 414.0 95.3" stroke-width="3.3"/><polyline points="406.9 87.8 407.0 87.8" stroke-width="3.8"/><polyline points="403.6 77.2 410.1 85.2 416.0 93.7" stroke-width="3.3"/><polyline points="410.1 85.2 410.1 85.2" stroke-width="3.8"/><polyline points="390.0 64.0 402.0 78.5" stroke-width="4.2"/><polyline points="392.9 67.5 394.3 69.2" stroke-width="11.0"/><polyline points="400.1 76.2 401.8 78.2" stroke-width="7.1"/><polyline points="390.0 64.0 385.5 59.0" stroke-width="2.6"/></g><g stroke="#f97f0e"><polyline points="390.0 64.0 385.0 52.0 383.5 46.0" stroke-width="2.0"/><polyline points="383.5 46.0 383.5 46.0" stroke-width="2.4"/><polyline points="390.0 64.0 387.0 76.0 389.0 86.0" stroke-width="2.0"/><polyline points="389.0 86.0 389.0 86.0" stroke-width="2.4"/><polyline points="400.4 79.8 406.9 87.8 414.0 95.3" stroke-width="2.5"/><polyline points="406.9 87.8 407.0 87.8" stroke-width="3.0"/><polyline points="403.6 77.2 410.1 85.2 416.0 93.7" stroke-width="2.5"/><polyline points="410.1 85.2 410.1 85.2" stroke-width="3.0"/><polyline points="390.0 64.0 402.0 78.5" stroke-width="3.4"/><polyline points="392.9 67.5 394.3 69.2" stroke-width="10.2"/><polyline points="400.1 76.2 401.8 78.2" stroke-width="6.3"/><polyline points="390.0 64.0 385.5 59.0" stroke-width="1.8"/></g></g><circle cx="385.5" cy="59.0" r="3.5" fill="#f97f0e" stroke="#fbb878" stroke-width="0.5"/><path d="M382.1 61.8 A4.4 4.4 0 0 1 388.6 55.9 Z" fill="#e01a24"/><path d="M436.7 89.9 L477.4 109.6" stroke="#3fae4a" stroke-width="1.0" stroke-linecap="round"/><g fill="none" stroke-linecap="round" stroke-linejoin="round"><g stroke="#fbb878"><polyline points="424.5 126.0 417.0 122.0 410.0 121.0" stroke-width="2.7"/><polyline points="410.0 121.0 410.0 121.0" stroke-width="3.1"/><polyline points="424.5 126.0 438.0 126.0 446.0 127.0" stroke-width="2.7"/><polyline points="446.0 127.0 446.0 127.0" stroke-width="3.1"/><polyline points="442.4 120.3 450.4 111.8 456.9 102.8" stroke-width="3.2"/><polyline points="450.4 111.8 450.4 111.8" stroke-width="3.6"/><polyline points="439.6 117.7 447.6 109.2 455.1 101.2" stroke-width="3.2"/><polyline points="447.6 109.2 447.6 109.2" stroke-width="3.6"/><polyline points="424.5 126.0 441.0 119.0" stroke-width="4.0"/><polyline points="428.5 124.3 430.4 123.5" stroke-width="10.5"/><polyline points="438.4 120.1 440.7 119.1" stroke-width="6.8"/><polyline points="424.5 126.0 418.0 127.3" stroke-width="2.5"/></g><g stroke="#f97f0e"><polyline points="424.5 126.0 417.0 122.0 410.0 121.0" stroke-width="1.9"/><polyline points="410.0 121.0 410.0 121.0" stroke-width="2.3"/><polyline points="424.5 126.0 438.0 126.0 446.0 127.0" stroke-width="1.9"/><polyline points="446.0 127.0 446.0 127.0" stroke-width="2.3"/><polyline points="442.4 120.3 450.4 111.8 456.9 102.8" stroke-width="2.4"/><polyline points="450.4 111.8 450.4 111.8" stroke-width="2.8"/><polyline points="439.6 117.7 447.6 109.2 455.1 101.2" stroke-width="2.4"/><polyline points="447.6 109.2 447.6 109.2" stroke-width="2.8"/><polyline points="424.5 126.0 441.0 119.0" stroke-width="3.2"/><polyline points="428.5 124.3 430.4 123.5" stroke-width="9.7"/><polyline points="438.4 120.1 440.7 119.1" stroke-width="6.0"/><polyline points="424.5 126.0 418.0 127.3" stroke-width="1.7"/></g></g><circle cx="418.0" cy="127.3" r="3.3" fill="#f97f0e" stroke="#fbb878" stroke-width="0.5"/><path d="M418.6 131.4 A4.2 4.2 0 0 1 417.0 123.3 Z" fill="#e01a24"/><g transform="translate(452.5 141.0) rotate(25.0)"><rect x="-5.0" y="-5.0" width="10.0" height="10.0" fill="#9fe0a4" stroke="#3db255" stroke-width="0.8"/><path d="M0 -5.0 V5.0" stroke="#3db255" stroke-width="0.8"/></g><g fill="none" stroke-linecap="round" stroke-linejoin="round"><g stroke="#fbb878"><polyline points="475.0 180.0 464.0 176.0 455.0 173.0" stroke-width="2.8"/><polyline points="455.0 173.0 455.0 173.0" stroke-width="3.2"/><polyline points="475.0 180.0 484.0 181.0 490.0 184.0" stroke-width="2.8"/><polyline points="490.0 184.0 490.0 184.0" stroke-width="3.2"/><polyline points="466.8 162.6 461.8 153.1 456.7 144.4" stroke-width="3.3"/><polyline points="461.8 153.1 461.8 153.1" stroke-width="3.8"/><polyline points="463.2 164.4 458.2 154.9 454.3 145.6" stroke-width="3.3"/><polyline points="458.2 154.9 458.2 154.9" stroke-width="3.8"/><polyline points="475.0 180.0 465.0 163.5" stroke-width="4.2"/><polyline points="472.6 176.0 471.4 174.1" stroke-width="11.0"/><polyline points="466.6 166.1 465.2 163.8" stroke-width="7.1"/><polyline points="475.0 180.0 479.0 185.0" stroke-width="2.6"/></g><g stroke="#f97f0e"><polyline points="475.0 180.0 464.0 176.0 455.0 173.0" stroke-width="2.0"/><polyline points="455.0 173.0 455.0 173.0" stroke-width="2.4"/><polyline points="475.0 180.0 484.0 181.0 490.0 184.0" stroke-width="2.0"/><polyline points="490.0 184.0 490.0 184.0" stroke-width="2.4"/><polyline points="466.8 162.6 461.8 153.1 456.7 144.4" stroke-width="2.5"/><polyline points="461.8 153.1 461.8 153.1" stroke-width="3.0"/><polyline points="463.2 164.4 458.2 154.9 454.3 145.6" stroke-width="2.5"/><polyline points="458.2 154.9 458.2 154.9" stroke-width="3.0"/><polyline points="475.0 180.0 465.0 163.5" stroke-width="3.4"/><polyline points="472.6 176.0 471.4 174.1" stroke-width="10.2"/><polyline points="466.6 166.1 465.2 163.8" stroke-width="6.3"/><polyline points="475.0 180.0 479.0 185.0" stroke-width="1.8"/></g></g><circle cx="479.0" cy="185.0" r="3.5" fill="#f97f0e" stroke="#fbb878" stroke-width="0.5"/><path d="M482.6 182.4 A4.4 4.4 0 0 1 475.7 187.9 Z" fill="#e01a24"/><path d="M461.0 189.0 L449.0 234.0" stroke="#7fe0a0" stroke-width="1.0" stroke-linecap="round"/><g fill="none" stroke-linecap="round" stroke-linejoin="round"><g stroke="#fbb878"><polyline points="494.0 201.0 493.0 209.0 494.5 218.0" stroke-width="2.8"/><polyline points="494.5 218.0 494.5 218.0" stroke-width="3.2"/><polyline points="478.6 204.0 467.6 206.5 456.7 209.7" stroke-width="3.3"/><polyline points="467.6 206.5 467.6 206.5" stroke-width="3.8"/><polyline points="479.4 208.0 468.4 210.5 457.3 212.3" stroke-width="3.3"/><polyline points="468.4 210.5 468.5 210.5" stroke-width="3.8"/><polyline points="494.0 201.0 479.0 206.0" stroke-width="4.2"/><polyline points="490.4 202.2 488.6 202.8" stroke-width="11.0"/><polyline points="481.4 205.2 479.3 205.9" stroke-width="7.1"/><polyline points="494.0 201.0 500.0 198.0" stroke-width="2.6"/></g><g stroke="#f97f0e"><polyline points="494.0 201.0 493.0 209.0 494.5 218.0" stroke-width="2.0"/><polyline points="494.5 218.0 494.5 218.0" stroke-width="2.4"/><polyline points="478.6 204.0 467.6 206.5 456.7 209.7" stroke-width="2.5"/><polyline points="467.6 206.5 467.6 206.5" stroke-width="3.0"/><polyline points="479.4 208.0 468.4 210.5 457.3 212.3" stroke-width="2.5"/><polyline points="468.4 210.5 468.5 210.5" stroke-width="3.0"/><polyline points="494.0 201.0 479.0 206.0" stroke-width="3.4"/><polyline points="490.4 202.2 488.6 202.8" stroke-width="10.2"/><polyline points="481.4 205.2 479.3 205.9" stroke-width="6.3"/><polyline points="494.0 201.0 500.0 198.0" stroke-width="1.8"/></g></g><circle cx="500.0" cy="198.0" r="3.5" fill="#f97f0e" stroke="#fbb878" stroke-width="0.5"/><path d="M498.2 194.0 A4.4 4.4 0 0 1 502.2 201.8 Z" fill="#e01a24"/><g fill="none" stroke-linecap="round" stroke-linejoin="round"><g stroke="#fbb878"><polyline points="476.0 242.0 487.0 242.0 498.0 246.0" stroke-width="2.8"/><polyline points="498.0 246.0 498.0 246.0" stroke-width="3.2"/><polyline points="476.0 242.0 473.0 252.0 474.0 263.0" stroke-width="2.8"/><polyline points="474.0 263.0 474.0 263.0" stroke-width="3.2"/><polyline points="482.5 255.3 489.5 263.8 497.0 271.8" stroke-width="3.3"/><polyline points="489.5 263.8 489.5 263.8" stroke-width="3.8"/><polyline points="485.5 252.7 492.5 261.2 499.0 270.2" stroke-width="3.3"/><polyline points="492.5 261.2 492.6 261.2" stroke-width="3.8"/><polyline points="476.0 242.0 484.0 254.0" stroke-width="4.2"/><polyline points="477.9 244.9 478.9 246.3" stroke-width="11.0"/><polyline points="482.7 252.1 483.8 253.8" stroke-width="7.1"/><polyline points="476.0 242.0 471.0 236.0" stroke-width="2.6"/></g><g stroke="#f97f0e"><polyline points="476.0 242.0 487.0 242.0 498.0 246.0" stroke-width="2.0"/><polyline points="498.0 246.0 498.0 246.0" stroke-width="2.4"/><polyline points="476.0 242.0 473.0 252.0 474.0 263.0" stroke-width="2.0"/><polyline points="474.0 263.0 474.0 263.0" stroke-width="2.4"/><polyline points="482.5 255.3 489.5 263.8 497.0 271.8" stroke-width="2.5"/><polyline points="489.5 263.8 489.5 263.8" stroke-width="3.0"/><polyline points="485.5 252.7 492.5 261.2 499.0 270.2" stroke-width="2.5"/><polyline points="492.5 261.2 492.6 261.2" stroke-width="3.0"/><polyline points="476.0 242.0 484.0 254.0" stroke-width="3.4"/><polyline points="477.9 244.9 478.9 246.3" stroke-width="10.2"/><polyline points="482.7 252.1 483.8 253.8" stroke-width="6.3"/><polyline points="476.0 242.0 471.0 236.0" stroke-width="1.8"/></g></g><circle cx="471.0" cy="236.0" r="3.5" fill="#f97f0e" stroke="#fbb878" stroke-width="0.5"/><path d="M467.5 238.6 A4.4 4.4 0 0 1 474.2 233.0 Z" fill="#e01a24"/><path d="M497 270 L503 266.5 L511 277 L507.5 279.5 L504 275.5 L502.5 282 L498 279.5 Z" fill="#22a845"/><path d="M487.7 285.5 L530.0 302.8" stroke="#7fe0a0" stroke-width="1.0" stroke-linecap="round"/><g fill="none" stroke-linecap="round" stroke-linejoin="round"><g stroke="#fbb878"><polyline points="472.0 315.0 485.0 317.0 491.7 318.8" stroke-width="2.8"/><polyline points="491.7 318.8 491.7 318.8" stroke-width="3.2"/><polyline points="488.8 311.5 497.8 304.0 505.8 296.0" stroke-width="3.3"/><polyline points="497.8 304.0 497.8 304.0" stroke-width="3.8"/><polyline points="486.2 308.5 495.2 301.0 504.2 294.0" stroke-width="3.3"/><polyline points="495.2 301.0 495.2 301.0" stroke-width="3.8"/><polyline points="472.0 315.0 487.5 310.0" stroke-width="4.2"/><polyline points="475.7 313.8 477.6 313.2" stroke-width="11.0"/><polyline points="485.0 310.8 487.2 310.1" stroke-width="7.1"/><polyline points="472.0 315.0 465.5 315.5" stroke-width="2.6"/></g><g stroke="#f97f0e"><polyline points="472.0 315.0 485.0 317.0 491.7 318.8" stroke-width="2.0"/><polyline points="491.7 318.8 491.7 318.8" stroke-width="2.4"/><polyline points="488.8 311.5 497.8 304.0 505.8 296.0" stroke-width="2.5"/><polyline points="497.8 304.0 497.8 304.0" stroke-width="3.0"/><polyline points="486.2 308.5 495.2 301.0 504.2 294.0" stroke-width="2.5"/><polyline points="495.2 301.0 495.2 301.0" stroke-width="3.0"/><polyline points="472.0 315.0 487.5 310.0" stroke-width="3.4"/><polyline points="475.7 313.8 477.6 313.2" stroke-width="10.2"/><polyline points="485.0 310.8 487.2 310.1" stroke-width="6.3"/><polyline points="472.0 315.0 465.5 315.5" stroke-width="1.8"/></g></g><circle cx="465.5" cy="315.5" r="3.5" fill="#f97f0e" stroke="#fbb878" stroke-width="0.5"/><path d="M465.6 319.9 A4.4 4.4 0 0 1 464.9 311.1 Z" fill="#e01a24"/><g transform="translate(466.0 329.0) rotate(33.0)"><rect x="-7.5" y="-4.0" width="15.0" height="8.0" fill="#9fe0a4" stroke="#3db255" stroke-width="0.8"/><path d="M0 -4.0 V4.0" stroke="#3db255" stroke-width="0.8"/></g><g fill="none" stroke-linecap="round" stroke-linejoin="round"><g stroke="#fbb878"><polyline points="496.0 357.0 507.0 356.0 513.0 357.0" stroke-width="2.8"/><polyline points="513.0 357.0 513.0 357.0" stroke-width="3.2"/><polyline points="496.0 357.0 488.0 359.0 486.0 364.0" stroke-width="2.8"/><polyline points="486.0 364.0 486.0 364.0" stroke-width="3.2"/><polyline points="485.4 343.6 478.4 336.6 470.9 330.6" stroke-width="3.3"/><polyline points="478.4 336.6 478.4 336.6" stroke-width="3.8"/><polyline points="482.6 346.4 475.6 339.4 469.1 332.4" stroke-width="3.3"/><polyline points="475.6 339.4 475.6 339.4" stroke-width="3.8"/><polyline points="496.0 357.0 484.0 345.0" stroke-width="4.2"/><polyline points="493.1 354.1 491.7 352.7" stroke-width="11.0"/><polyline points="485.9 346.9 484.2 345.2" stroke-width="7.1"/><polyline points="496.0 357.0 501.0 361.0" stroke-width="2.6"/></g><g stroke="#f97f0e"><polyline points="496.0 357.0 507.0 356.0 513.0 357.0" stroke-width="2.0"/><polyline points="513.0 357.0 513.0 357.0" stroke-width="2.4"/><polyline points="496.0 357.0 488.0 359.0 486.0 364.0" stroke-width="2.0"/><polyline points="486.0 364.0 486.0 364.0" stroke-width="2.4"/><polyline points="485.4 343.6 478.4 336.6 470.9 330.6" stroke-width="2.5"/><polyline points="478.4 336.6 478.4 336.6" stroke-width="3.0"/><polyline points="482.6 346.4 475.6 339.4 469.1 332.4" stroke-width="2.5"/><polyline points="475.6 339.4 475.6 339.4" stroke-width="3.0"/><polyline points="496.0 357.0 484.0 345.0" stroke-width="3.4"/><polyline points="493.1 354.1 491.7 352.7" stroke-width="10.2"/><polyline points="485.9 346.9 484.2 345.2" stroke-width="6.3"/><polyline points="496.0 357.0 501.0 361.0" stroke-width="1.8"/></g></g><circle cx="501.0" cy="361.0" r="3.5" fill="#f97f0e" stroke="#fbb878" stroke-width="0.5"/><path d="M503.9 357.7 A4.4 4.4 0 0 1 498.4 364.6 Z" fill="#e01a24"/><path d="M455.9 414.0 L498.0 435.5" stroke="#a8ead0" stroke-width="1.0" stroke-linecap="round"/><g fill="none" stroke-linecap="round" stroke-linejoin="round"><g stroke="#fbb878"><polyline points="493.5 394.5 501.0 399.0 509.0 402.5" stroke-width="2.8"/><polyline points="509.0 402.5 509.0 402.5" stroke-width="3.2"/><polyline points="483.3 409.5 479.8 415.5 476.9 421.8" stroke-width="3.3"/><polyline points="479.8 415.5 479.8 415.5" stroke-width="3.8"/><polyline points="486.7 411.5 483.2 417.5 479.1 423.2" stroke-width="3.3"/><polyline points="483.2 417.5 483.2 417.5" stroke-width="3.8"/><polyline points="493.5 394.5 485.0 410.5" stroke-width="4.2"/><polyline points="491.5 398.3 490.4 400.3" stroke-width="11.0"/><polyline points="486.4 407.9 485.2 410.2" stroke-width="7.1"/><polyline points="493.5 394.5 497.6 388.0" stroke-width="2.6"/></g><g stroke="#f97f0e"><polyline points="493.5 394.5 501.0 399.0 509.0 402.5" stroke-width="2.0"/><polyline points="509.0 402.5 509.0 402.5" stroke-width="2.4"/><polyline points="483.3 409.5 479.8 415.5 476.9 421.8" stroke-width="2.5"/><polyline points="479.8 415.5 479.8 415.5" stroke-width="3.0"/><polyline points="486.7 411.5 483.2 417.5 479.1 423.2" stroke-width="2.5"/><polyline points="483.2 417.5 483.2 417.5" stroke-width="3.0"/><polyline points="493.5 394.5 485.0 410.5" stroke-width="3.4"/><polyline points="491.5 398.3 490.4 400.3" stroke-width="10.2"/><polyline points="486.4 407.9 485.2 410.2" stroke-width="6.3"/><polyline points="493.5 394.5 497.6 388.0" stroke-width="1.8"/></g></g><circle cx="497.6" cy="388.0" r="3.5" fill="#f97f0e" stroke="#fbb878" stroke-width="0.5"/><path d="M494.0 385.5 A4.4 4.4 0 0 1 501.4 390.2 Z" fill="#e01a24"/><g fill="none" stroke-linecap="round" stroke-linejoin="round"><g stroke="#fbb878"><polyline points="495.5 457.5 494.0 465.0 493.3 471.5" stroke-width="2.8"/><polyline points="493.3 471.5 493.3 471.5" stroke-width="3.2"/><polyline points="481.5 462.9 487.5 470.9 481.7 474.9" stroke-width="3.3"/><polyline points="487.5 470.9 487.5 470.9" stroke-width="3.8"/><polyline points="485.5 463.1 491.5 471.1 484.3 475.1" stroke-width="3.3"/><polyline points="491.5 471.1 491.5 471.1" stroke-width="3.8"/><polyline points="495.5 457.5 483.5 463.0" stroke-width="4.2"/><polyline points="492.6 458.8 491.2 459.5" stroke-width="11.0"/><polyline points="485.4 462.1 483.7 462.9" stroke-width="7.1"/><polyline points="495.5 457.5 500.5 452.8" stroke-width="2.6"/></g><g stroke="#f97f0e"><polyline points="495.5 457.5 494.0 465.0 493.3 471.5" stroke-width="2.0"/><polyline points="493.3 471.5 493.3 471.5" stroke-width="2.4"/><polyline points="481.5 462.9 487.5 470.9 481.7 474.9" stroke-width="2.5"/><polyline points="487.5 470.9 487.5 470.9" stroke-width="3.0"/><polyline points="485.5 463.1 491.5 471.1 484.3 475.1" stroke-width="2.5"/><polyline points="491.5 471.1 491.5 471.1" stroke-width="3.0"/><polyline points="495.5 457.5 483.5 463.0" stroke-width="3.4"/><polyline points="492.6 458.8 491.2 459.5" stroke-width="10.2"/><polyline points="485.4 462.1 483.7 462.9" stroke-width="6.3"/><polyline points="495.5 457.5 500.5 452.8" stroke-width="1.8"/></g></g><circle cx="500.5" cy="452.8" r="3.5" fill="#f97f0e" stroke="#fbb878" stroke-width="0.5"/><path d="M497.7 449.5 A4.4 4.4 0 0 1 503.7 455.8 Z" fill="#e01a24"/><path d="M492 478 l5 -3 M495 482 l6 -2 M499 486 l5 0 M490 474 l3 -4" stroke="#fff" stroke-width="0.9"/><g fill="none" stroke-linecap="round" stroke-linejoin="round"><g stroke="#fbb878"><polyline points="531.5 466.5 528.5 459.0 526.5 452.2" stroke-width="2.7"/><polyline points="526.5 452.2 526.5 452.2" stroke-width="3.1"/><polyline points="531.5 466.5 534.0 459.0 534.8 452.2" stroke-width="2.7"/><polyline points="534.8 452.2 534.8 452.2" stroke-width="3.1"/><polyline points="525.2 482.4 521.2 493.4 518.3 504.1" stroke-width="3.2"/><polyline points="521.2 493.4 521.2 493.4" stroke-width="3.6"/><polyline points="528.8 483.6 524.8 494.6 520.7 504.9" stroke-width="3.2"/><polyline points="524.8 494.6 524.8 494.6" stroke-width="3.6"/><polyline points="531.5 466.5 527.0 483.0" stroke-width="4.0"/><polyline points="530.4 470.5 529.9 472.4" stroke-width="10.5"/><polyline points="527.7 480.4 527.1 482.7" stroke-width="6.8"/><polyline points="531.5 466.5 532.2 461.5" stroke-width="2.5"/></g><g stroke="#f97f0e"><polyline points="531.5 466.5 528.5 459.0 526.5 452.2" stroke-width="1.9"/><polyline points="526.5 452.2 526.5 452.2" stroke-width="2.3"/><polyline points="531.5 466.5 534.0 459.0 534.8 452.2" stroke-width="1.9"/><polyline points="534.8 452.2 534.8 452.2" stroke-width="2.3"/><polyline points="525.2 482.4 521.2 493.4 518.3 504.1" stroke-width="2.4"/><polyline points="521.2 493.4 521.2 493.4" stroke-width="2.8"/><polyline points="528.8 483.6 524.8 494.6 520.7 504.9" stroke-width="2.4"/><polyline points="524.8 494.6 524.8 494.6" stroke-width="2.8"/><polyline points="531.5 466.5 527.0 483.0" stroke-width="3.2"/><polyline points="530.4 470.5 529.9 472.4" stroke-width="9.7"/><polyline points="527.7 480.4 527.1 482.7" stroke-width="6.0"/><polyline points="531.5 466.5 532.2 461.5" stroke-width="1.7"/></g></g><circle cx="532.2" cy="461.5" r="3.3" fill="#f97f0e" stroke="#fbb878" stroke-width="0.5"/><path d="M528.1 460.7 A4.2 4.2 0 0 1 536.4 461.9 Z" fill="#e01a24"/><g fill="none" stroke-linecap="round" stroke-linejoin="round"><g stroke="#fbb878"><polyline points="574.5 496.5 581.0 498.0 588.4 499.5" stroke-width="2.7"/><polyline points="588.4 499.5 588.4 499.5" stroke-width="3.1"/><polyline points="568.7 509.6 566.7 516.6 565.8 524.2" stroke-width="3.2"/><polyline points="566.7 516.6 566.7 516.6" stroke-width="3.6"/><polyline points="572.3 510.4 570.3 517.4 568.2 524.8" stroke-width="3.2"/><polyline points="570.3 517.4 570.4 517.4" stroke-width="3.6"/><polyline points="574.5 496.5 570.5 510.0" stroke-width="4.0"/><polyline points="573.5 499.7 573.1 501.4" stroke-width="10.5"/><polyline points="571.1 507.8 570.6 509.7" stroke-width="6.8"/><polyline points="574.5 496.5 575.4 490.3" stroke-width="2.5"/></g><g stroke="#f97f0e"><polyline points="574.5 496.5 581.0 498.0 588.4 499.5" stroke-width="1.9"/><polyline points="588.4 499.5 588.4 499.5" stroke-width="2.3"/><polyline points="568.7 509.6 566.7 516.6 565.8 524.2" stroke-width="2.4"/><polyline points="566.7 516.6 566.7 516.6" stroke-width="2.8"/><polyline points="572.3 510.4 570.3 517.4 568.2 524.8" stroke-width="2.4"/><polyline points="570.3 517.4 570.4 517.4" stroke-width="2.8"/><polyline points="574.5 496.5 570.5 510.0" stroke-width="3.2"/><polyline points="573.5 499.7 573.1 501.4" stroke-width="9.7"/><polyline points="571.1 507.8 570.6 509.7" stroke-width="6.0"/><polyline points="574.5 496.5 575.4 490.3" stroke-width="1.7"/></g></g><circle cx="575.4" cy="490.3" r="3.3" fill="#f97f0e" stroke="#fbb878" stroke-width="0.5"/><path d="M571.3 489.5 A4.2 4.2 0 0 1 579.6 490.7 Z" fill="#e01a24"/></svg></body></html>
